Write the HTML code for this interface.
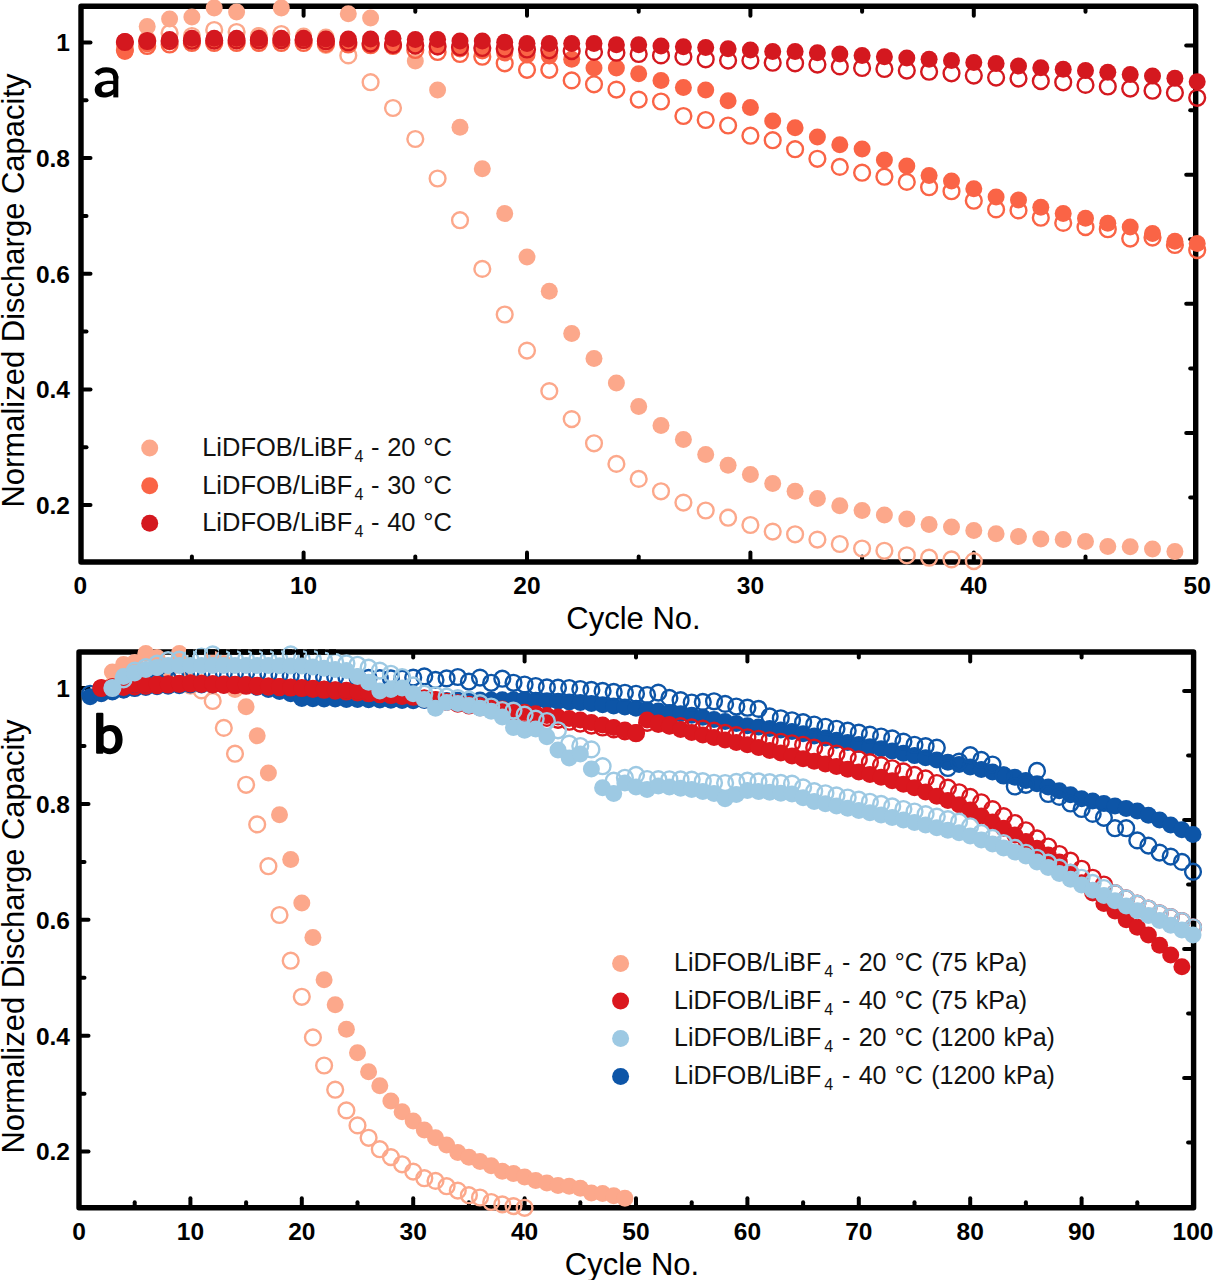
<!DOCTYPE html>
<html><head><meta charset="utf-8"><style>
html,body{margin:0;padding:0;background:#fff;width:1214px;height:1280px;overflow:hidden}
svg{position:absolute;left:0;top:0;font-family:"Liberation Sans",sans-serif}
</style></head><body>
<svg width="1214" height="1280" viewBox="0 0 1214 1280">
<rect x="0" y="0" width="1214" height="1280" fill="#fff"/>
<defs><clipPath id="ca"><rect x="61.0" y="0.0" width="1154.7" height="572.0"/></clipPath>
<clipPath id="cb"><rect x="59.0" y="640.0" width="1154.6" height="577.8"/></clipPath></defs>
<g>
<rect x="81.0" y="6.2" width="1114.7" height="555.8" fill="none" stroke="#000" stroke-width="5.4" stroke-linejoin="round"/>
<line x1="191.9" y1="562.0" x2="191.9" y2="556.5" stroke="#000" stroke-width="4" stroke-linecap="round"/>
<line x1="191.9" y1="6.2" x2="191.9" y2="11.7" stroke="#000" stroke-width="4" stroke-linecap="round"/>
<line x1="303.6" y1="562.0" x2="303.6" y2="552.5" stroke="#000" stroke-width="4" stroke-linecap="round"/>
<line x1="303.6" y1="6.2" x2="303.6" y2="15.7" stroke="#000" stroke-width="4" stroke-linecap="round"/>
<line x1="415.3" y1="562.0" x2="415.3" y2="556.5" stroke="#000" stroke-width="4" stroke-linecap="round"/>
<line x1="415.3" y1="6.2" x2="415.3" y2="11.7" stroke="#000" stroke-width="4" stroke-linecap="round"/>
<line x1="527.0" y1="562.0" x2="527.0" y2="552.5" stroke="#000" stroke-width="4" stroke-linecap="round"/>
<line x1="527.0" y1="6.2" x2="527.0" y2="15.7" stroke="#000" stroke-width="4" stroke-linecap="round"/>
<line x1="638.7" y1="562.0" x2="638.7" y2="556.5" stroke="#000" stroke-width="4" stroke-linecap="round"/>
<line x1="638.7" y1="6.2" x2="638.7" y2="11.7" stroke="#000" stroke-width="4" stroke-linecap="round"/>
<line x1="750.4" y1="562.0" x2="750.4" y2="552.5" stroke="#000" stroke-width="4" stroke-linecap="round"/>
<line x1="750.4" y1="6.2" x2="750.4" y2="15.7" stroke="#000" stroke-width="4" stroke-linecap="round"/>
<line x1="862.1" y1="562.0" x2="862.1" y2="556.5" stroke="#000" stroke-width="4" stroke-linecap="round"/>
<line x1="862.1" y1="6.2" x2="862.1" y2="11.7" stroke="#000" stroke-width="4" stroke-linecap="round"/>
<line x1="973.8" y1="562.0" x2="973.8" y2="552.5" stroke="#000" stroke-width="4" stroke-linecap="round"/>
<line x1="973.8" y1="6.2" x2="973.8" y2="15.7" stroke="#000" stroke-width="4" stroke-linecap="round"/>
<line x1="1085.5" y1="562.0" x2="1085.5" y2="556.5" stroke="#000" stroke-width="4" stroke-linecap="round"/>
<line x1="1085.5" y1="6.2" x2="1085.5" y2="11.7" stroke="#000" stroke-width="4" stroke-linecap="round"/>
<line x1="81.0" y1="505.0" x2="90.5" y2="505.0" stroke="#000" stroke-width="4" stroke-linecap="round"/>
<line x1="81.0" y1="447.2" x2="86.5" y2="447.2" stroke="#000" stroke-width="4" stroke-linecap="round"/>
<line x1="81.0" y1="389.4" x2="90.5" y2="389.4" stroke="#000" stroke-width="4" stroke-linecap="round"/>
<line x1="81.0" y1="331.5" x2="86.5" y2="331.5" stroke="#000" stroke-width="4" stroke-linecap="round"/>
<line x1="81.0" y1="273.7" x2="90.5" y2="273.7" stroke="#000" stroke-width="4" stroke-linecap="round"/>
<line x1="81.0" y1="215.9" x2="86.5" y2="215.9" stroke="#000" stroke-width="4" stroke-linecap="round"/>
<line x1="81.0" y1="158.1" x2="90.5" y2="158.1" stroke="#000" stroke-width="4" stroke-linecap="round"/>
<line x1="81.0" y1="100.2" x2="86.5" y2="100.2" stroke="#000" stroke-width="4" stroke-linecap="round"/>
<line x1="81.0" y1="42.4" x2="90.5" y2="42.4" stroke="#000" stroke-width="4" stroke-linecap="round"/>
<line x1="1195.7" y1="45.6" x2="1186.2" y2="45.6" stroke="#000" stroke-width="4" stroke-linecap="round"/>
<line x1="1195.7" y1="110.2" x2="1190.2" y2="110.2" stroke="#000" stroke-width="4" stroke-linecap="round"/>
<line x1="1195.7" y1="174.7" x2="1186.2" y2="174.7" stroke="#000" stroke-width="4" stroke-linecap="round"/>
<line x1="1195.7" y1="239.2" x2="1190.2" y2="239.2" stroke="#000" stroke-width="4" stroke-linecap="round"/>
<line x1="1195.7" y1="303.8" x2="1186.2" y2="303.8" stroke="#000" stroke-width="4" stroke-linecap="round"/>
<line x1="1195.7" y1="368.4" x2="1190.2" y2="368.4" stroke="#000" stroke-width="4" stroke-linecap="round"/>
<line x1="1195.7" y1="432.9" x2="1186.2" y2="432.9" stroke="#000" stroke-width="4" stroke-linecap="round"/>
<line x1="1195.7" y1="497.4" x2="1190.2" y2="497.4" stroke="#000" stroke-width="4" stroke-linecap="round"/>
</g>
<g clip-path="url(#ca)">
<circle cx="124.9" cy="44.0" r="7.9" fill="none" stroke="#FCA88B" stroke-width="2.4"/>
<circle cx="147.2" cy="40.0" r="7.9" fill="none" stroke="#FCA88B" stroke-width="2.4"/>
<circle cx="169.6" cy="33.0" r="7.9" fill="none" stroke="#FCA88B" stroke-width="2.4"/>
<circle cx="191.9" cy="36.0" r="7.9" fill="none" stroke="#FCA88B" stroke-width="2.4"/>
<circle cx="214.2" cy="30.0" r="7.9" fill="none" stroke="#FCA88B" stroke-width="2.4"/>
<circle cx="236.6" cy="32.0" r="7.9" fill="none" stroke="#FCA88B" stroke-width="2.4"/>
<circle cx="258.9" cy="36.0" r="7.9" fill="none" stroke="#FCA88B" stroke-width="2.4"/>
<circle cx="281.3" cy="34.0" r="7.9" fill="none" stroke="#FCA88B" stroke-width="2.4"/>
<circle cx="303.6" cy="40.0" r="7.9" fill="none" stroke="#FCA88B" stroke-width="2.4"/>
<circle cx="325.9" cy="44.8" r="7.9" fill="none" stroke="#FCA88B" stroke-width="2.4"/>
<circle cx="348.3" cy="55.4" r="7.9" fill="none" stroke="#FCA88B" stroke-width="2.4"/>
<circle cx="370.6" cy="82.2" r="7.9" fill="none" stroke="#FCA88B" stroke-width="2.4"/>
<circle cx="393.0" cy="108.0" r="7.9" fill="none" stroke="#FCA88B" stroke-width="2.4"/>
<circle cx="415.3" cy="139.0" r="7.9" fill="none" stroke="#FCA88B" stroke-width="2.4"/>
<circle cx="437.6" cy="178.5" r="7.9" fill="none" stroke="#FCA88B" stroke-width="2.4"/>
<circle cx="460.0" cy="220.2" r="7.9" fill="none" stroke="#FCA88B" stroke-width="2.4"/>
<circle cx="482.3" cy="268.9" r="7.9" fill="none" stroke="#FCA88B" stroke-width="2.4"/>
<circle cx="504.7" cy="314.5" r="7.9" fill="none" stroke="#FCA88B" stroke-width="2.4"/>
<circle cx="527.0" cy="350.6" r="7.9" fill="none" stroke="#FCA88B" stroke-width="2.4"/>
<circle cx="549.3" cy="391.1" r="7.9" fill="none" stroke="#FCA88B" stroke-width="2.4"/>
<circle cx="571.7" cy="419.1" r="7.9" fill="none" stroke="#FCA88B" stroke-width="2.4"/>
<circle cx="594.0" cy="443.3" r="7.9" fill="none" stroke="#FCA88B" stroke-width="2.4"/>
<circle cx="616.4" cy="463.9" r="7.9" fill="none" stroke="#FCA88B" stroke-width="2.4"/>
<circle cx="638.7" cy="478.9" r="7.9" fill="none" stroke="#FCA88B" stroke-width="2.4"/>
<circle cx="661.0" cy="491.3" r="7.9" fill="none" stroke="#FCA88B" stroke-width="2.4"/>
<circle cx="683.4" cy="502.6" r="7.9" fill="none" stroke="#FCA88B" stroke-width="2.4"/>
<circle cx="705.7" cy="510.5" r="7.9" fill="none" stroke="#FCA88B" stroke-width="2.4"/>
<circle cx="728.1" cy="517.7" r="7.9" fill="none" stroke="#FCA88B" stroke-width="2.4"/>
<circle cx="750.4" cy="525.0" r="7.9" fill="none" stroke="#FCA88B" stroke-width="2.4"/>
<circle cx="772.7" cy="531.6" r="7.9" fill="none" stroke="#FCA88B" stroke-width="2.4"/>
<circle cx="795.1" cy="534.3" r="7.9" fill="none" stroke="#FCA88B" stroke-width="2.4"/>
<circle cx="817.4" cy="539.6" r="7.9" fill="none" stroke="#FCA88B" stroke-width="2.4"/>
<circle cx="839.8" cy="544.0" r="7.9" fill="none" stroke="#FCA88B" stroke-width="2.4"/>
<circle cx="862.1" cy="548.5" r="7.9" fill="none" stroke="#FCA88B" stroke-width="2.4"/>
<circle cx="884.4" cy="550.8" r="7.9" fill="none" stroke="#FCA88B" stroke-width="2.4"/>
<circle cx="906.8" cy="555.3" r="7.9" fill="none" stroke="#FCA88B" stroke-width="2.4"/>
<circle cx="929.1" cy="557.7" r="7.9" fill="none" stroke="#FCA88B" stroke-width="2.4"/>
<circle cx="951.5" cy="559.4" r="7.9" fill="none" stroke="#FCA88B" stroke-width="2.4"/>
<circle cx="973.8" cy="561.1" r="7.9" fill="none" stroke="#FCA88B" stroke-width="2.4"/>
<circle cx="124.9" cy="48.0" r="8.5" fill="#FCA88B"/>
<circle cx="147.2" cy="26.4" r="8.5" fill="#FCA88B"/>
<circle cx="169.6" cy="19.0" r="8.5" fill="#FCA88B"/>
<circle cx="191.9" cy="17.1" r="8.5" fill="#FCA88B"/>
<circle cx="214.2" cy="7.9" r="8.5" fill="#FCA88B"/>
<circle cx="236.6" cy="11.9" r="8.5" fill="#FCA88B"/>
<circle cx="258.9" cy="36.0" r="8.5" fill="#FCA88B"/>
<circle cx="281.3" cy="7.9" r="8.5" fill="#FCA88B"/>
<circle cx="303.6" cy="36.0" r="8.5" fill="#FCA88B"/>
<circle cx="325.9" cy="37.0" r="8.5" fill="#FCA88B"/>
<circle cx="348.3" cy="13.7" r="8.5" fill="#FCA88B"/>
<circle cx="370.6" cy="17.9" r="8.5" fill="#FCA88B"/>
<circle cx="393.0" cy="44.0" r="8.5" fill="#FCA88B"/>
<circle cx="415.3" cy="61.1" r="8.5" fill="#FCA88B"/>
<circle cx="437.6" cy="90.1" r="8.5" fill="#FCA88B"/>
<circle cx="460.0" cy="127.2" r="8.5" fill="#FCA88B"/>
<circle cx="482.3" cy="168.8" r="8.5" fill="#FCA88B"/>
<circle cx="504.7" cy="213.6" r="8.5" fill="#FCA88B"/>
<circle cx="527.0" cy="257.0" r="8.5" fill="#FCA88B"/>
<circle cx="549.3" cy="291.3" r="8.5" fill="#FCA88B"/>
<circle cx="571.7" cy="333.5" r="8.5" fill="#FCA88B"/>
<circle cx="594.0" cy="358.5" r="8.5" fill="#FCA88B"/>
<circle cx="616.4" cy="382.9" r="8.5" fill="#FCA88B"/>
<circle cx="638.7" cy="406.4" r="8.5" fill="#FCA88B"/>
<circle cx="661.0" cy="425.4" r="8.5" fill="#FCA88B"/>
<circle cx="683.4" cy="439.4" r="8.5" fill="#FCA88B"/>
<circle cx="705.7" cy="454.4" r="8.5" fill="#FCA88B"/>
<circle cx="728.1" cy="465.2" r="8.5" fill="#FCA88B"/>
<circle cx="750.4" cy="474.4" r="8.5" fill="#FCA88B"/>
<circle cx="772.7" cy="483.4" r="8.5" fill="#FCA88B"/>
<circle cx="795.1" cy="491.3" r="8.5" fill="#FCA88B"/>
<circle cx="817.4" cy="498.5" r="8.5" fill="#FCA88B"/>
<circle cx="839.8" cy="505.8" r="8.5" fill="#FCA88B"/>
<circle cx="862.1" cy="510.6" r="8.5" fill="#FCA88B"/>
<circle cx="884.4" cy="515.0" r="8.5" fill="#FCA88B"/>
<circle cx="906.8" cy="519.1" r="8.5" fill="#FCA88B"/>
<circle cx="929.1" cy="524.6" r="8.5" fill="#FCA88B"/>
<circle cx="951.5" cy="527.0" r="8.5" fill="#FCA88B"/>
<circle cx="973.8" cy="530.4" r="8.5" fill="#FCA88B"/>
<circle cx="996.1" cy="533.8" r="8.5" fill="#FCA88B"/>
<circle cx="1018.5" cy="536.5" r="8.5" fill="#FCA88B"/>
<circle cx="1040.8" cy="538.9" r="8.5" fill="#FCA88B"/>
<circle cx="1063.2" cy="539.6" r="8.5" fill="#FCA88B"/>
<circle cx="1085.5" cy="541.6" r="8.5" fill="#FCA88B"/>
<circle cx="1107.8" cy="546.4" r="8.5" fill="#FCA88B"/>
<circle cx="1130.2" cy="546.8" r="8.5" fill="#FCA88B"/>
<circle cx="1152.5" cy="549.1" r="8.5" fill="#FCA88B"/>
<circle cx="1174.9" cy="551.5" r="8.5" fill="#FCA88B"/>
<circle cx="124.9" cy="50.0" r="7.9" fill="none" stroke="#FA6446" stroke-width="2.4"/>
<circle cx="147.2" cy="46.0" r="7.9" fill="none" stroke="#FA6446" stroke-width="2.4"/>
<circle cx="169.6" cy="44.5" r="7.9" fill="none" stroke="#FA6446" stroke-width="2.4"/>
<circle cx="191.9" cy="43.0" r="7.9" fill="none" stroke="#FA6446" stroke-width="2.4"/>
<circle cx="214.2" cy="43.0" r="7.9" fill="none" stroke="#FA6446" stroke-width="2.4"/>
<circle cx="236.6" cy="43.0" r="7.9" fill="none" stroke="#FA6446" stroke-width="2.4"/>
<circle cx="258.9" cy="43.0" r="7.9" fill="none" stroke="#FA6446" stroke-width="2.4"/>
<circle cx="281.3" cy="43.0" r="7.9" fill="none" stroke="#FA6446" stroke-width="2.4"/>
<circle cx="303.6" cy="43.0" r="7.9" fill="none" stroke="#FA6446" stroke-width="2.4"/>
<circle cx="325.9" cy="43.8" r="7.9" fill="none" stroke="#FA6446" stroke-width="2.4"/>
<circle cx="348.3" cy="44.5" r="7.9" fill="none" stroke="#FA6446" stroke-width="2.4"/>
<circle cx="370.6" cy="45.2" r="7.9" fill="none" stroke="#FA6446" stroke-width="2.4"/>
<circle cx="393.0" cy="46.0" r="7.9" fill="none" stroke="#FA6446" stroke-width="2.4"/>
<circle cx="415.3" cy="50.0" r="7.9" fill="none" stroke="#FA6446" stroke-width="2.4"/>
<circle cx="437.6" cy="52.0" r="7.9" fill="none" stroke="#FA6446" stroke-width="2.4"/>
<circle cx="460.0" cy="54.0" r="7.9" fill="none" stroke="#FA6446" stroke-width="2.4"/>
<circle cx="482.3" cy="56.7" r="7.9" fill="none" stroke="#FA6446" stroke-width="2.4"/>
<circle cx="504.7" cy="63.3" r="7.9" fill="none" stroke="#FA6446" stroke-width="2.4"/>
<circle cx="527.0" cy="69.8" r="7.9" fill="none" stroke="#FA6446" stroke-width="2.4"/>
<circle cx="549.3" cy="69.8" r="7.9" fill="none" stroke="#FA6446" stroke-width="2.4"/>
<circle cx="571.7" cy="80.4" r="7.9" fill="none" stroke="#FA6446" stroke-width="2.4"/>
<circle cx="594.0" cy="84.3" r="7.9" fill="none" stroke="#FA6446" stroke-width="2.4"/>
<circle cx="616.4" cy="89.6" r="7.9" fill="none" stroke="#FA6446" stroke-width="2.4"/>
<circle cx="638.7" cy="99.6" r="7.9" fill="none" stroke="#FA6446" stroke-width="2.4"/>
<circle cx="661.0" cy="101.5" r="7.9" fill="none" stroke="#FA6446" stroke-width="2.4"/>
<circle cx="683.4" cy="116.0" r="7.9" fill="none" stroke="#FA6446" stroke-width="2.4"/>
<circle cx="705.7" cy="120.0" r="7.9" fill="none" stroke="#FA6446" stroke-width="2.4"/>
<circle cx="728.1" cy="125.5" r="7.9" fill="none" stroke="#FA6446" stroke-width="2.4"/>
<circle cx="750.4" cy="135.7" r="7.9" fill="none" stroke="#FA6446" stroke-width="2.4"/>
<circle cx="772.7" cy="140.2" r="7.9" fill="none" stroke="#FA6446" stroke-width="2.4"/>
<circle cx="795.1" cy="149.2" r="7.9" fill="none" stroke="#FA6446" stroke-width="2.4"/>
<circle cx="817.4" cy="158.8" r="7.9" fill="none" stroke="#FA6446" stroke-width="2.4"/>
<circle cx="839.8" cy="166.9" r="7.9" fill="none" stroke="#FA6446" stroke-width="2.4"/>
<circle cx="862.1" cy="172.7" r="7.9" fill="none" stroke="#FA6446" stroke-width="2.4"/>
<circle cx="884.4" cy="176.7" r="7.9" fill="none" stroke="#FA6446" stroke-width="2.4"/>
<circle cx="906.8" cy="181.9" r="7.9" fill="none" stroke="#FA6446" stroke-width="2.4"/>
<circle cx="929.1" cy="187.2" r="7.9" fill="none" stroke="#FA6446" stroke-width="2.4"/>
<circle cx="951.5" cy="191.2" r="7.9" fill="none" stroke="#FA6446" stroke-width="2.4"/>
<circle cx="973.8" cy="200.7" r="7.9" fill="none" stroke="#FA6446" stroke-width="2.4"/>
<circle cx="996.1" cy="209.4" r="7.9" fill="none" stroke="#FA6446" stroke-width="2.4"/>
<circle cx="1018.5" cy="210.4" r="7.9" fill="none" stroke="#FA6446" stroke-width="2.4"/>
<circle cx="1040.8" cy="217.7" r="7.9" fill="none" stroke="#FA6446" stroke-width="2.4"/>
<circle cx="1063.2" cy="222.9" r="7.9" fill="none" stroke="#FA6446" stroke-width="2.4"/>
<circle cx="1085.5" cy="227.1" r="7.9" fill="none" stroke="#FA6446" stroke-width="2.4"/>
<circle cx="1107.8" cy="229.2" r="7.9" fill="none" stroke="#FA6446" stroke-width="2.4"/>
<circle cx="1130.2" cy="238.6" r="7.9" fill="none" stroke="#FA6446" stroke-width="2.4"/>
<circle cx="1152.5" cy="237.6" r="7.9" fill="none" stroke="#FA6446" stroke-width="2.4"/>
<circle cx="1174.9" cy="245.0" r="7.9" fill="none" stroke="#FA6446" stroke-width="2.4"/>
<circle cx="1197.2" cy="250.1" r="7.9" fill="none" stroke="#FA6446" stroke-width="2.4"/>
<circle cx="124.9" cy="51.4" r="8.5" fill="#FA6446"/>
<circle cx="147.2" cy="44.0" r="8.5" fill="#FA6446"/>
<circle cx="169.6" cy="42.0" r="8.5" fill="#FA6446"/>
<circle cx="191.9" cy="41.0" r="8.5" fill="#FA6446"/>
<circle cx="214.2" cy="41.0" r="8.5" fill="#FA6446"/>
<circle cx="236.6" cy="41.0" r="8.5" fill="#FA6446"/>
<circle cx="258.9" cy="41.0" r="8.5" fill="#FA6446"/>
<circle cx="281.3" cy="41.0" r="8.5" fill="#FA6446"/>
<circle cx="303.6" cy="41.0" r="8.5" fill="#FA6446"/>
<circle cx="325.9" cy="42.0" r="8.5" fill="#FA6446"/>
<circle cx="348.3" cy="42.0" r="8.5" fill="#FA6446"/>
<circle cx="370.6" cy="43.0" r="8.5" fill="#FA6446"/>
<circle cx="393.0" cy="44.0" r="8.5" fill="#FA6446"/>
<circle cx="415.3" cy="45.0" r="8.5" fill="#FA6446"/>
<circle cx="437.6" cy="47.0" r="8.5" fill="#FA6446"/>
<circle cx="460.0" cy="49.0" r="8.5" fill="#FA6446"/>
<circle cx="482.3" cy="51.0" r="8.5" fill="#FA6446"/>
<circle cx="504.7" cy="53.0" r="8.5" fill="#FA6446"/>
<circle cx="527.0" cy="55.0" r="8.5" fill="#FA6446"/>
<circle cx="549.3" cy="56.0" r="8.5" fill="#FA6446"/>
<circle cx="571.7" cy="59.3" r="8.5" fill="#FA6446"/>
<circle cx="594.0" cy="68.0" r="8.5" fill="#FA6446"/>
<circle cx="616.4" cy="68.0" r="8.5" fill="#FA6446"/>
<circle cx="638.7" cy="73.8" r="8.5" fill="#FA6446"/>
<circle cx="661.0" cy="80.4" r="8.5" fill="#FA6446"/>
<circle cx="683.4" cy="87.6" r="8.5" fill="#FA6446"/>
<circle cx="705.7" cy="90.1" r="8.5" fill="#FA6446"/>
<circle cx="728.1" cy="100.7" r="8.5" fill="#FA6446"/>
<circle cx="750.4" cy="107.5" r="8.5" fill="#FA6446"/>
<circle cx="772.7" cy="121.0" r="8.5" fill="#FA6446"/>
<circle cx="795.1" cy="127.8" r="8.5" fill="#FA6446"/>
<circle cx="817.4" cy="137.0" r="8.5" fill="#FA6446"/>
<circle cx="839.8" cy="144.7" r="8.5" fill="#FA6446"/>
<circle cx="862.1" cy="149.0" r="8.5" fill="#FA6446"/>
<circle cx="884.4" cy="160.0" r="8.5" fill="#FA6446"/>
<circle cx="906.8" cy="166.0" r="8.5" fill="#FA6446"/>
<circle cx="929.1" cy="175.4" r="8.5" fill="#FA6446"/>
<circle cx="951.5" cy="181.1" r="8.5" fill="#FA6446"/>
<circle cx="973.8" cy="188.7" r="8.5" fill="#FA6446"/>
<circle cx="996.1" cy="197.0" r="8.5" fill="#FA6446"/>
<circle cx="1018.5" cy="199.9" r="8.5" fill="#FA6446"/>
<circle cx="1040.8" cy="207.2" r="8.5" fill="#FA6446"/>
<circle cx="1063.2" cy="213.5" r="8.5" fill="#FA6446"/>
<circle cx="1085.5" cy="218.3" r="8.5" fill="#FA6446"/>
<circle cx="1107.8" cy="223.3" r="8.5" fill="#FA6446"/>
<circle cx="1130.2" cy="227.1" r="8.5" fill="#FA6446"/>
<circle cx="1152.5" cy="233.4" r="8.5" fill="#FA6446"/>
<circle cx="1174.9" cy="241.3" r="8.5" fill="#FA6446"/>
<circle cx="1197.2" cy="243.4" r="8.5" fill="#FA6446"/>
<circle cx="124.9" cy="42.0" r="7.9" fill="none" stroke="#D4181F" stroke-width="2.4"/>
<circle cx="147.2" cy="41.0" r="7.9" fill="none" stroke="#D4181F" stroke-width="2.4"/>
<circle cx="169.6" cy="40.9" r="7.9" fill="none" stroke="#D4181F" stroke-width="2.4"/>
<circle cx="191.9" cy="40.7" r="7.9" fill="none" stroke="#D4181F" stroke-width="2.4"/>
<circle cx="214.2" cy="40.6" r="7.9" fill="none" stroke="#D4181F" stroke-width="2.4"/>
<circle cx="236.6" cy="40.4" r="7.9" fill="none" stroke="#D4181F" stroke-width="2.4"/>
<circle cx="258.9" cy="40.3" r="7.9" fill="none" stroke="#D4181F" stroke-width="2.4"/>
<circle cx="281.3" cy="40.1" r="7.9" fill="none" stroke="#D4181F" stroke-width="2.4"/>
<circle cx="303.6" cy="40.0" r="7.9" fill="none" stroke="#D4181F" stroke-width="2.4"/>
<circle cx="325.9" cy="41.2" r="7.9" fill="none" stroke="#D4181F" stroke-width="2.4"/>
<circle cx="348.3" cy="42.4" r="7.9" fill="none" stroke="#D4181F" stroke-width="2.4"/>
<circle cx="370.6" cy="43.6" r="7.9" fill="none" stroke="#D4181F" stroke-width="2.4"/>
<circle cx="393.0" cy="44.8" r="7.9" fill="none" stroke="#D4181F" stroke-width="2.4"/>
<circle cx="415.3" cy="45.6" r="7.9" fill="none" stroke="#D4181F" stroke-width="2.4"/>
<circle cx="437.6" cy="46.4" r="7.9" fill="none" stroke="#D4181F" stroke-width="2.4"/>
<circle cx="460.0" cy="47.2" r="7.9" fill="none" stroke="#D4181F" stroke-width="2.4"/>
<circle cx="482.3" cy="48.0" r="7.9" fill="none" stroke="#D4181F" stroke-width="2.4"/>
<circle cx="504.7" cy="48.8" r="7.9" fill="none" stroke="#D4181F" stroke-width="2.4"/>
<circle cx="527.0" cy="49.5" r="7.9" fill="none" stroke="#D4181F" stroke-width="2.4"/>
<circle cx="549.3" cy="50.3" r="7.9" fill="none" stroke="#D4181F" stroke-width="2.4"/>
<circle cx="571.7" cy="51.1" r="7.9" fill="none" stroke="#D4181F" stroke-width="2.4"/>
<circle cx="594.0" cy="51.9" r="7.9" fill="none" stroke="#D4181F" stroke-width="2.4"/>
<circle cx="616.4" cy="52.7" r="7.9" fill="none" stroke="#D4181F" stroke-width="2.4"/>
<circle cx="638.7" cy="54.0" r="7.9" fill="none" stroke="#D4181F" stroke-width="2.4"/>
<circle cx="661.0" cy="55.4" r="7.9" fill="none" stroke="#D4181F" stroke-width="2.4"/>
<circle cx="683.4" cy="56.7" r="7.9" fill="none" stroke="#D4181F" stroke-width="2.4"/>
<circle cx="705.7" cy="59.3" r="7.9" fill="none" stroke="#D4181F" stroke-width="2.4"/>
<circle cx="728.1" cy="60.6" r="7.9" fill="none" stroke="#D4181F" stroke-width="2.4"/>
<circle cx="750.4" cy="60.6" r="7.9" fill="none" stroke="#D4181F" stroke-width="2.4"/>
<circle cx="772.7" cy="62.7" r="7.9" fill="none" stroke="#D4181F" stroke-width="2.4"/>
<circle cx="795.1" cy="63.3" r="7.9" fill="none" stroke="#D4181F" stroke-width="2.4"/>
<circle cx="817.4" cy="64.6" r="7.9" fill="none" stroke="#D4181F" stroke-width="2.4"/>
<circle cx="839.8" cy="66.4" r="7.9" fill="none" stroke="#D4181F" stroke-width="2.4"/>
<circle cx="862.1" cy="68.0" r="7.9" fill="none" stroke="#D4181F" stroke-width="2.4"/>
<circle cx="884.4" cy="69.0" r="7.9" fill="none" stroke="#D4181F" stroke-width="2.4"/>
<circle cx="906.8" cy="70.6" r="7.9" fill="none" stroke="#D4181F" stroke-width="2.4"/>
<circle cx="929.1" cy="71.7" r="7.9" fill="none" stroke="#D4181F" stroke-width="2.4"/>
<circle cx="951.5" cy="73.3" r="7.9" fill="none" stroke="#D4181F" stroke-width="2.4"/>
<circle cx="973.8" cy="75.6" r="7.9" fill="none" stroke="#D4181F" stroke-width="2.4"/>
<circle cx="996.1" cy="77.6" r="7.9" fill="none" stroke="#D4181F" stroke-width="2.4"/>
<circle cx="1018.5" cy="78.6" r="7.9" fill="none" stroke="#D4181F" stroke-width="2.4"/>
<circle cx="1040.8" cy="81.1" r="7.9" fill="none" stroke="#D4181F" stroke-width="2.4"/>
<circle cx="1063.2" cy="82.3" r="7.9" fill="none" stroke="#D4181F" stroke-width="2.4"/>
<circle cx="1085.5" cy="84.9" r="7.9" fill="none" stroke="#D4181F" stroke-width="2.4"/>
<circle cx="1107.8" cy="86.5" r="7.9" fill="none" stroke="#D4181F" stroke-width="2.4"/>
<circle cx="1130.2" cy="88.6" r="7.9" fill="none" stroke="#D4181F" stroke-width="2.4"/>
<circle cx="1152.5" cy="90.7" r="7.9" fill="none" stroke="#D4181F" stroke-width="2.4"/>
<circle cx="1174.9" cy="92.8" r="7.9" fill="none" stroke="#D4181F" stroke-width="2.4"/>
<circle cx="1197.2" cy="97.8" r="7.9" fill="none" stroke="#D4181F" stroke-width="2.4"/>
<circle cx="124.9" cy="41.6" r="8.5" fill="#D4181F"/>
<circle cx="147.2" cy="40.9" r="8.5" fill="#D4181F"/>
<circle cx="169.6" cy="39.5" r="8.5" fill="#D4181F"/>
<circle cx="191.9" cy="38.2" r="8.5" fill="#D4181F"/>
<circle cx="214.2" cy="38.2" r="8.5" fill="#D4181F"/>
<circle cx="236.6" cy="38.2" r="8.5" fill="#D4181F"/>
<circle cx="258.9" cy="38.2" r="8.5" fill="#D4181F"/>
<circle cx="281.3" cy="38.2" r="8.5" fill="#D4181F"/>
<circle cx="303.6" cy="38.2" r="8.5" fill="#D4181F"/>
<circle cx="325.9" cy="39.0" r="8.5" fill="#D4181F"/>
<circle cx="348.3" cy="39.0" r="8.5" fill="#D4181F"/>
<circle cx="370.6" cy="39.0" r="8.5" fill="#D4181F"/>
<circle cx="393.0" cy="38.5" r="8.5" fill="#D4181F"/>
<circle cx="415.3" cy="39.5" r="8.5" fill="#D4181F"/>
<circle cx="437.6" cy="39.5" r="8.5" fill="#D4181F"/>
<circle cx="460.0" cy="40.9" r="8.5" fill="#D4181F"/>
<circle cx="482.3" cy="40.9" r="8.5" fill="#D4181F"/>
<circle cx="504.7" cy="42.2" r="8.5" fill="#D4181F"/>
<circle cx="527.0" cy="43.5" r="8.5" fill="#D4181F"/>
<circle cx="549.3" cy="43.5" r="8.5" fill="#D4181F"/>
<circle cx="571.7" cy="43.5" r="8.5" fill="#D4181F"/>
<circle cx="594.0" cy="43.5" r="8.5" fill="#D4181F"/>
<circle cx="616.4" cy="44.8" r="8.5" fill="#D4181F"/>
<circle cx="638.7" cy="44.8" r="8.5" fill="#D4181F"/>
<circle cx="661.0" cy="46.1" r="8.5" fill="#D4181F"/>
<circle cx="683.4" cy="46.8" r="8.5" fill="#D4181F"/>
<circle cx="705.7" cy="47.4" r="8.5" fill="#D4181F"/>
<circle cx="728.1" cy="48.8" r="8.5" fill="#D4181F"/>
<circle cx="750.4" cy="50.1" r="8.5" fill="#D4181F"/>
<circle cx="772.7" cy="51.4" r="8.5" fill="#D4181F"/>
<circle cx="795.1" cy="51.4" r="8.5" fill="#D4181F"/>
<circle cx="817.4" cy="52.7" r="8.5" fill="#D4181F"/>
<circle cx="839.8" cy="54.0" r="8.5" fill="#D4181F"/>
<circle cx="862.1" cy="55.4" r="8.5" fill="#D4181F"/>
<circle cx="884.4" cy="56.7" r="8.5" fill="#D4181F"/>
<circle cx="906.8" cy="58.0" r="8.5" fill="#D4181F"/>
<circle cx="929.1" cy="59.3" r="8.5" fill="#D4181F"/>
<circle cx="951.5" cy="60.6" r="8.5" fill="#D4181F"/>
<circle cx="973.8" cy="62.4" r="8.5" fill="#D4181F"/>
<circle cx="996.1" cy="63.6" r="8.5" fill="#D4181F"/>
<circle cx="1018.5" cy="66.0" r="8.5" fill="#D4181F"/>
<circle cx="1040.8" cy="67.7" r="8.5" fill="#D4181F"/>
<circle cx="1063.2" cy="69.2" r="8.5" fill="#D4181F"/>
<circle cx="1085.5" cy="70.6" r="8.5" fill="#D4181F"/>
<circle cx="1107.8" cy="72.3" r="8.5" fill="#D4181F"/>
<circle cx="1130.2" cy="74.4" r="8.5" fill="#D4181F"/>
<circle cx="1152.5" cy="76.1" r="8.5" fill="#D4181F"/>
<circle cx="1174.9" cy="78.2" r="8.5" fill="#D4181F"/>
<circle cx="1197.2" cy="81.7" r="8.5" fill="#D4181F"/>
</g>
<g>
<rect x="79.0" y="652.0" width="1114.6" height="555.8" fill="none" stroke="#000" stroke-width="5.4" stroke-linejoin="round"/>
<line x1="134.7" y1="1207.8" x2="134.7" y2="1202.3" stroke="#000" stroke-width="4" stroke-linecap="round"/>
<line x1="190.4" y1="1207.8" x2="190.4" y2="1198.3" stroke="#000" stroke-width="4" stroke-linecap="round"/>
<line x1="190.4" y1="652.0" x2="190.4" y2="657.5" stroke="#000" stroke-width="4" stroke-linecap="round"/>
<line x1="246.1" y1="1207.8" x2="246.1" y2="1202.3" stroke="#000" stroke-width="4" stroke-linecap="round"/>
<line x1="301.8" y1="1207.8" x2="301.8" y2="1198.3" stroke="#000" stroke-width="4" stroke-linecap="round"/>
<line x1="301.8" y1="652.0" x2="301.8" y2="661.5" stroke="#000" stroke-width="4" stroke-linecap="round"/>
<line x1="357.5" y1="1207.8" x2="357.5" y2="1202.3" stroke="#000" stroke-width="4" stroke-linecap="round"/>
<line x1="413.2" y1="1207.8" x2="413.2" y2="1198.3" stroke="#000" stroke-width="4" stroke-linecap="round"/>
<line x1="413.2" y1="652.0" x2="413.2" y2="657.5" stroke="#000" stroke-width="4" stroke-linecap="round"/>
<line x1="468.9" y1="1207.8" x2="468.9" y2="1202.3" stroke="#000" stroke-width="4" stroke-linecap="round"/>
<line x1="524.6" y1="1207.8" x2="524.6" y2="1198.3" stroke="#000" stroke-width="4" stroke-linecap="round"/>
<line x1="524.6" y1="652.0" x2="524.6" y2="661.5" stroke="#000" stroke-width="4" stroke-linecap="round"/>
<line x1="580.3" y1="1207.8" x2="580.3" y2="1202.3" stroke="#000" stroke-width="4" stroke-linecap="round"/>
<line x1="636.0" y1="1207.8" x2="636.0" y2="1198.3" stroke="#000" stroke-width="4" stroke-linecap="round"/>
<line x1="636.0" y1="652.0" x2="636.0" y2="657.5" stroke="#000" stroke-width="4" stroke-linecap="round"/>
<line x1="691.7" y1="1207.8" x2="691.7" y2="1202.3" stroke="#000" stroke-width="4" stroke-linecap="round"/>
<line x1="747.4" y1="1207.8" x2="747.4" y2="1198.3" stroke="#000" stroke-width="4" stroke-linecap="round"/>
<line x1="747.4" y1="652.0" x2="747.4" y2="661.5" stroke="#000" stroke-width="4" stroke-linecap="round"/>
<line x1="803.1" y1="1207.8" x2="803.1" y2="1202.3" stroke="#000" stroke-width="4" stroke-linecap="round"/>
<line x1="858.8" y1="1207.8" x2="858.8" y2="1198.3" stroke="#000" stroke-width="4" stroke-linecap="round"/>
<line x1="858.8" y1="652.0" x2="858.8" y2="657.5" stroke="#000" stroke-width="4" stroke-linecap="round"/>
<line x1="914.5" y1="1207.8" x2="914.5" y2="1202.3" stroke="#000" stroke-width="4" stroke-linecap="round"/>
<line x1="970.2" y1="1207.8" x2="970.2" y2="1198.3" stroke="#000" stroke-width="4" stroke-linecap="round"/>
<line x1="970.2" y1="652.0" x2="970.2" y2="661.5" stroke="#000" stroke-width="4" stroke-linecap="round"/>
<line x1="1025.9" y1="1207.8" x2="1025.9" y2="1202.3" stroke="#000" stroke-width="4" stroke-linecap="round"/>
<line x1="1081.6" y1="1207.8" x2="1081.6" y2="1198.3" stroke="#000" stroke-width="4" stroke-linecap="round"/>
<line x1="1081.6" y1="652.0" x2="1081.6" y2="657.5" stroke="#000" stroke-width="4" stroke-linecap="round"/>
<line x1="1137.3" y1="1207.8" x2="1137.3" y2="1202.3" stroke="#000" stroke-width="4" stroke-linecap="round"/>
<line x1="79.0" y1="1151.6" x2="88.5" y2="1151.6" stroke="#000" stroke-width="4" stroke-linecap="round"/>
<line x1="79.0" y1="1093.7" x2="84.5" y2="1093.7" stroke="#000" stroke-width="4" stroke-linecap="round"/>
<line x1="79.0" y1="1035.7" x2="88.5" y2="1035.7" stroke="#000" stroke-width="4" stroke-linecap="round"/>
<line x1="79.0" y1="977.8" x2="84.5" y2="977.8" stroke="#000" stroke-width="4" stroke-linecap="round"/>
<line x1="79.0" y1="919.8" x2="88.5" y2="919.8" stroke="#000" stroke-width="4" stroke-linecap="round"/>
<line x1="79.0" y1="861.9" x2="84.5" y2="861.9" stroke="#000" stroke-width="4" stroke-linecap="round"/>
<line x1="79.0" y1="803.9" x2="88.5" y2="803.9" stroke="#000" stroke-width="4" stroke-linecap="round"/>
<line x1="79.0" y1="746.0" x2="84.5" y2="746.0" stroke="#000" stroke-width="4" stroke-linecap="round"/>
<line x1="79.0" y1="688.0" x2="88.5" y2="688.0" stroke="#000" stroke-width="4" stroke-linecap="round"/>
<line x1="1193.6" y1="691.0" x2="1184.1" y2="691.0" stroke="#000" stroke-width="4" stroke-linecap="round"/>
<line x1="1193.6" y1="755.5" x2="1188.1" y2="755.5" stroke="#000" stroke-width="4" stroke-linecap="round"/>
<line x1="1193.6" y1="820.0" x2="1184.1" y2="820.0" stroke="#000" stroke-width="4" stroke-linecap="round"/>
<line x1="1193.6" y1="884.5" x2="1188.1" y2="884.5" stroke="#000" stroke-width="4" stroke-linecap="round"/>
<line x1="1193.6" y1="949.0" x2="1184.1" y2="949.0" stroke="#000" stroke-width="4" stroke-linecap="round"/>
<line x1="1193.6" y1="1013.5" x2="1188.1" y2="1013.5" stroke="#000" stroke-width="4" stroke-linecap="round"/>
<line x1="1193.6" y1="1078.0" x2="1184.1" y2="1078.0" stroke="#000" stroke-width="4" stroke-linecap="round"/>
<line x1="1193.6" y1="1142.5" x2="1188.1" y2="1142.5" stroke="#000" stroke-width="4" stroke-linecap="round"/>
</g>
<g clip-path="url(#cb)">
<circle cx="101.3" cy="689.6" r="7.9" fill="none" stroke="#FCA88B" stroke-width="2.4"/>
<circle cx="112.4" cy="685.6" r="7.9" fill="none" stroke="#FCA88B" stroke-width="2.4"/>
<circle cx="123.6" cy="678.6" r="7.9" fill="none" stroke="#FCA88B" stroke-width="2.4"/>
<circle cx="134.7" cy="681.6" r="7.9" fill="none" stroke="#FCA88B" stroke-width="2.4"/>
<circle cx="145.8" cy="675.6" r="7.9" fill="none" stroke="#FCA88B" stroke-width="2.4"/>
<circle cx="157.0" cy="677.6" r="7.9" fill="none" stroke="#FCA88B" stroke-width="2.4"/>
<circle cx="168.1" cy="681.6" r="7.9" fill="none" stroke="#FCA88B" stroke-width="2.4"/>
<circle cx="179.3" cy="679.6" r="7.9" fill="none" stroke="#FCA88B" stroke-width="2.4"/>
<circle cx="190.4" cy="685.6" r="7.9" fill="none" stroke="#FCA88B" stroke-width="2.4"/>
<circle cx="201.5" cy="690.4" r="7.9" fill="none" stroke="#FCA88B" stroke-width="2.4"/>
<circle cx="212.7" cy="701.0" r="7.9" fill="none" stroke="#FCA88B" stroke-width="2.4"/>
<circle cx="223.8" cy="727.9" r="7.9" fill="none" stroke="#FCA88B" stroke-width="2.4"/>
<circle cx="235.0" cy="753.7" r="7.9" fill="none" stroke="#FCA88B" stroke-width="2.4"/>
<circle cx="246.1" cy="784.8" r="7.9" fill="none" stroke="#FCA88B" stroke-width="2.4"/>
<circle cx="257.2" cy="824.4" r="7.9" fill="none" stroke="#FCA88B" stroke-width="2.4"/>
<circle cx="268.4" cy="866.2" r="7.9" fill="none" stroke="#FCA88B" stroke-width="2.4"/>
<circle cx="279.5" cy="915.0" r="7.9" fill="none" stroke="#FCA88B" stroke-width="2.4"/>
<circle cx="290.7" cy="960.7" r="7.9" fill="none" stroke="#FCA88B" stroke-width="2.4"/>
<circle cx="301.8" cy="996.8" r="7.9" fill="none" stroke="#FCA88B" stroke-width="2.4"/>
<circle cx="312.9" cy="1037.4" r="7.9" fill="none" stroke="#FCA88B" stroke-width="2.4"/>
<circle cx="324.1" cy="1065.5" r="7.9" fill="none" stroke="#FCA88B" stroke-width="2.4"/>
<circle cx="335.2" cy="1089.7" r="7.9" fill="none" stroke="#FCA88B" stroke-width="2.4"/>
<circle cx="346.4" cy="1110.4" r="7.9" fill="none" stroke="#FCA88B" stroke-width="2.4"/>
<circle cx="357.5" cy="1125.4" r="7.9" fill="none" stroke="#FCA88B" stroke-width="2.4"/>
<circle cx="368.6" cy="1137.8" r="7.9" fill="none" stroke="#FCA88B" stroke-width="2.4"/>
<circle cx="379.8" cy="1149.2" r="7.9" fill="none" stroke="#FCA88B" stroke-width="2.4"/>
<circle cx="390.9" cy="1157.1" r="7.9" fill="none" stroke="#FCA88B" stroke-width="2.4"/>
<circle cx="402.1" cy="1164.3" r="7.9" fill="none" stroke="#FCA88B" stroke-width="2.4"/>
<circle cx="413.2" cy="1171.6" r="7.9" fill="none" stroke="#FCA88B" stroke-width="2.4"/>
<circle cx="424.3" cy="1178.2" r="7.9" fill="none" stroke="#FCA88B" stroke-width="2.4"/>
<circle cx="435.5" cy="1180.9" r="7.9" fill="none" stroke="#FCA88B" stroke-width="2.4"/>
<circle cx="446.6" cy="1186.2" r="7.9" fill="none" stroke="#FCA88B" stroke-width="2.4"/>
<circle cx="457.8" cy="1190.6" r="7.9" fill="none" stroke="#FCA88B" stroke-width="2.4"/>
<circle cx="468.9" cy="1195.2" r="7.9" fill="none" stroke="#FCA88B" stroke-width="2.4"/>
<circle cx="480.0" cy="1197.5" r="7.9" fill="none" stroke="#FCA88B" stroke-width="2.4"/>
<circle cx="491.2" cy="1202.0" r="7.9" fill="none" stroke="#FCA88B" stroke-width="2.4"/>
<circle cx="502.3" cy="1204.4" r="7.9" fill="none" stroke="#FCA88B" stroke-width="2.4"/>
<circle cx="513.5" cy="1206.1" r="7.9" fill="none" stroke="#FCA88B" stroke-width="2.4"/>
<circle cx="524.6" cy="1207.8" r="7.9" fill="none" stroke="#FCA88B" stroke-width="2.4"/>
<circle cx="101.3" cy="693.6" r="8.5" fill="#FCA88B"/>
<circle cx="112.4" cy="672.0" r="8.5" fill="#FCA88B"/>
<circle cx="123.6" cy="664.6" r="8.5" fill="#FCA88B"/>
<circle cx="134.7" cy="662.6" r="8.5" fill="#FCA88B"/>
<circle cx="145.8" cy="653.4" r="8.5" fill="#FCA88B"/>
<circle cx="157.0" cy="657.4" r="8.5" fill="#FCA88B"/>
<circle cx="168.1" cy="681.6" r="8.5" fill="#FCA88B"/>
<circle cx="179.3" cy="653.4" r="8.5" fill="#FCA88B"/>
<circle cx="190.4" cy="681.6" r="8.5" fill="#FCA88B"/>
<circle cx="201.5" cy="682.6" r="8.5" fill="#FCA88B"/>
<circle cx="212.7" cy="659.2" r="8.5" fill="#FCA88B"/>
<circle cx="223.8" cy="663.4" r="8.5" fill="#FCA88B"/>
<circle cx="235.0" cy="689.6" r="8.5" fill="#FCA88B"/>
<circle cx="246.1" cy="706.7" r="8.5" fill="#FCA88B"/>
<circle cx="257.2" cy="735.8" r="8.5" fill="#FCA88B"/>
<circle cx="268.4" cy="773.0" r="8.5" fill="#FCA88B"/>
<circle cx="279.5" cy="814.7" r="8.5" fill="#FCA88B"/>
<circle cx="290.7" cy="859.6" r="8.5" fill="#FCA88B"/>
<circle cx="301.8" cy="903.0" r="8.5" fill="#FCA88B"/>
<circle cx="312.9" cy="937.4" r="8.5" fill="#FCA88B"/>
<circle cx="324.1" cy="979.7" r="8.5" fill="#FCA88B"/>
<circle cx="335.2" cy="1004.8" r="8.5" fill="#FCA88B"/>
<circle cx="346.4" cy="1029.2" r="8.5" fill="#FCA88B"/>
<circle cx="357.5" cy="1052.8" r="8.5" fill="#FCA88B"/>
<circle cx="368.6" cy="1071.8" r="8.5" fill="#FCA88B"/>
<circle cx="379.8" cy="1085.8" r="8.5" fill="#FCA88B"/>
<circle cx="390.9" cy="1100.9" r="8.5" fill="#FCA88B"/>
<circle cx="402.1" cy="1111.7" r="8.5" fill="#FCA88B"/>
<circle cx="413.2" cy="1120.9" r="8.5" fill="#FCA88B"/>
<circle cx="424.3" cy="1129.9" r="8.5" fill="#FCA88B"/>
<circle cx="435.5" cy="1137.8" r="8.5" fill="#FCA88B"/>
<circle cx="446.6" cy="1145.0" r="8.5" fill="#FCA88B"/>
<circle cx="457.8" cy="1152.4" r="8.5" fill="#FCA88B"/>
<circle cx="468.9" cy="1157.2" r="8.5" fill="#FCA88B"/>
<circle cx="480.0" cy="1161.6" r="8.5" fill="#FCA88B"/>
<circle cx="491.2" cy="1165.7" r="8.5" fill="#FCA88B"/>
<circle cx="502.3" cy="1171.2" r="8.5" fill="#FCA88B"/>
<circle cx="513.5" cy="1173.6" r="8.5" fill="#FCA88B"/>
<circle cx="524.6" cy="1177.0" r="8.5" fill="#FCA88B"/>
<circle cx="535.7" cy="1180.4" r="8.5" fill="#FCA88B"/>
<circle cx="546.9" cy="1183.1" r="8.5" fill="#FCA88B"/>
<circle cx="558.0" cy="1185.5" r="8.5" fill="#FCA88B"/>
<circle cx="569.2" cy="1186.2" r="8.5" fill="#FCA88B"/>
<circle cx="580.3" cy="1188.2" r="8.5" fill="#FCA88B"/>
<circle cx="591.4" cy="1193.0" r="8.5" fill="#FCA88B"/>
<circle cx="602.6" cy="1193.4" r="8.5" fill="#FCA88B"/>
<circle cx="613.7" cy="1195.8" r="8.5" fill="#FCA88B"/>
<circle cx="624.9" cy="1198.2" r="8.5" fill="#FCA88B"/>
<circle cx="90.1" cy="696.7" r="8.5" fill="#0D55A7"/>
<circle cx="101.3" cy="693.8" r="8.5" fill="#0D55A7"/>
<circle cx="112.4" cy="691.9" r="8.5" fill="#0D55A7"/>
<circle cx="123.6" cy="689.9" r="8.5" fill="#0D55A7"/>
<circle cx="134.7" cy="688.0" r="8.5" fill="#0D55A7"/>
<circle cx="145.8" cy="687.4" r="8.5" fill="#0D55A7"/>
<circle cx="157.0" cy="686.8" r="8.5" fill="#0D55A7"/>
<circle cx="168.1" cy="686.3" r="8.5" fill="#0D55A7"/>
<circle cx="179.3" cy="685.7" r="8.5" fill="#0D55A7"/>
<circle cx="190.4" cy="685.1" r="8.5" fill="#0D55A7"/>
<circle cx="201.5" cy="685.1" r="8.5" fill="#0D55A7"/>
<circle cx="212.7" cy="685.1" r="8.5" fill="#0D55A7"/>
<circle cx="223.8" cy="685.1" r="8.5" fill="#0D55A7"/>
<circle cx="235.0" cy="685.1" r="8.5" fill="#0D55A7"/>
<circle cx="246.1" cy="685.1" r="8.5" fill="#0D55A7"/>
<circle cx="257.2" cy="687.3" r="8.5" fill="#0D55A7"/>
<circle cx="268.4" cy="689.4" r="8.5" fill="#0D55A7"/>
<circle cx="279.5" cy="691.6" r="8.5" fill="#0D55A7"/>
<circle cx="290.7" cy="693.8" r="8.5" fill="#0D55A7"/>
<circle cx="301.8" cy="698.4" r="8.5" fill="#0D55A7"/>
<circle cx="312.9" cy="698.7" r="8.5" fill="#0D55A7"/>
<circle cx="324.1" cy="698.9" r="8.5" fill="#0D55A7"/>
<circle cx="335.2" cy="699.1" r="8.5" fill="#0D55A7"/>
<circle cx="346.4" cy="699.4" r="8.5" fill="#0D55A7"/>
<circle cx="357.5" cy="699.6" r="8.5" fill="#0D55A7"/>
<circle cx="368.6" cy="699.8" r="8.5" fill="#0D55A7"/>
<circle cx="379.8" cy="700.1" r="8.5" fill="#0D55A7"/>
<circle cx="390.9" cy="700.3" r="8.5" fill="#0D55A7"/>
<circle cx="402.1" cy="700.5" r="8.5" fill="#0D55A7"/>
<circle cx="413.2" cy="700.7" r="8.5" fill="#0D55A7"/>
<circle cx="424.3" cy="700.6" r="8.5" fill="#0D55A7"/>
<circle cx="435.5" cy="700.5" r="8.5" fill="#0D55A7"/>
<circle cx="446.6" cy="700.4" r="8.5" fill="#0D55A7"/>
<circle cx="457.8" cy="700.3" r="8.5" fill="#0D55A7"/>
<circle cx="468.9" cy="700.2" r="8.5" fill="#0D55A7"/>
<circle cx="480.0" cy="700.1" r="8.5" fill="#0D55A7"/>
<circle cx="491.2" cy="699.9" r="8.5" fill="#0D55A7"/>
<circle cx="502.3" cy="699.8" r="8.5" fill="#0D55A7"/>
<circle cx="513.5" cy="699.7" r="8.5" fill="#0D55A7"/>
<circle cx="524.6" cy="699.6" r="8.5" fill="#0D55A7"/>
<circle cx="535.7" cy="700.2" r="8.5" fill="#0D55A7"/>
<circle cx="546.9" cy="700.7" r="8.5" fill="#0D55A7"/>
<circle cx="558.0" cy="701.3" r="8.5" fill="#0D55A7"/>
<circle cx="569.2" cy="701.9" r="8.5" fill="#0D55A7"/>
<circle cx="580.3" cy="702.5" r="8.5" fill="#0D55A7"/>
<circle cx="591.4" cy="703.6" r="8.5" fill="#0D55A7"/>
<circle cx="602.6" cy="704.8" r="8.5" fill="#0D55A7"/>
<circle cx="613.7" cy="706.0" r="8.5" fill="#0D55A7"/>
<circle cx="624.9" cy="707.1" r="8.5" fill="#0D55A7"/>
<circle cx="636.0" cy="708.3" r="8.5" fill="#0D55A7"/>
<circle cx="647.1" cy="709.7" r="8.5" fill="#0D55A7"/>
<circle cx="658.3" cy="711.1" r="8.5" fill="#0D55A7"/>
<circle cx="669.4" cy="712.5" r="8.5" fill="#0D55A7"/>
<circle cx="680.6" cy="713.8" r="8.5" fill="#0D55A7"/>
<circle cx="691.7" cy="715.2" r="8.5" fill="#0D55A7"/>
<circle cx="702.8" cy="717.3" r="8.5" fill="#0D55A7"/>
<circle cx="714.0" cy="719.4" r="8.5" fill="#0D55A7"/>
<circle cx="725.1" cy="721.5" r="8.5" fill="#0D55A7"/>
<circle cx="736.3" cy="723.6" r="8.5" fill="#0D55A7"/>
<circle cx="747.4" cy="725.7" r="8.5" fill="#0D55A7"/>
<circle cx="758.5" cy="727.1" r="8.5" fill="#0D55A7"/>
<circle cx="769.7" cy="728.6" r="8.5" fill="#0D55A7"/>
<circle cx="780.8" cy="730.0" r="8.5" fill="#0D55A7"/>
<circle cx="792.0" cy="731.5" r="8.5" fill="#0D55A7"/>
<circle cx="803.1" cy="733.8" r="8.5" fill="#0D55A7"/>
<circle cx="814.2" cy="735.9" r="8.5" fill="#0D55A7"/>
<circle cx="825.4" cy="738.1" r="8.5" fill="#0D55A7"/>
<circle cx="836.5" cy="740.2" r="8.5" fill="#0D55A7"/>
<circle cx="847.7" cy="742.4" r="8.5" fill="#0D55A7"/>
<circle cx="858.8" cy="744.5" r="8.5" fill="#0D55A7"/>
<circle cx="869.9" cy="746.7" r="8.5" fill="#0D55A7"/>
<circle cx="881.1" cy="748.8" r="8.5" fill="#0D55A7"/>
<circle cx="892.2" cy="751.1" r="8.5" fill="#0D55A7"/>
<circle cx="903.4" cy="753.3" r="8.5" fill="#0D55A7"/>
<circle cx="914.5" cy="755.6" r="8.5" fill="#0D55A7"/>
<circle cx="925.6" cy="757.8" r="8.5" fill="#0D55A7"/>
<circle cx="936.8" cy="760.1" r="8.5" fill="#0D55A7"/>
<circle cx="947.9" cy="762.3" r="8.5" fill="#0D55A7"/>
<circle cx="959.1" cy="764.5" r="8.5" fill="#0D55A7"/>
<circle cx="970.2" cy="766.9" r="8.5" fill="#0D55A7"/>
<circle cx="981.3" cy="769.5" r="8.5" fill="#0D55A7"/>
<circle cx="992.5" cy="772.1" r="8.5" fill="#0D55A7"/>
<circle cx="1003.6" cy="774.7" r="8.5" fill="#0D55A7"/>
<circle cx="1014.8" cy="777.2" r="8.5" fill="#0D55A7"/>
<circle cx="1025.9" cy="780.5" r="8.5" fill="#0D55A7"/>
<circle cx="1037.0" cy="783.8" r="8.5" fill="#0D55A7"/>
<circle cx="1048.2" cy="787.0" r="8.5" fill="#0D55A7"/>
<circle cx="1059.3" cy="790.8" r="8.5" fill="#0D55A7"/>
<circle cx="1070.5" cy="794.8" r="8.5" fill="#0D55A7"/>
<circle cx="1081.6" cy="798.7" r="8.5" fill="#0D55A7"/>
<circle cx="1092.7" cy="801.1" r="8.5" fill="#0D55A7"/>
<circle cx="1103.9" cy="803.6" r="8.5" fill="#0D55A7"/>
<circle cx="1115.0" cy="806.0" r="8.5" fill="#0D55A7"/>
<circle cx="1126.2" cy="808.5" r="8.5" fill="#0D55A7"/>
<circle cx="1137.3" cy="810.9" r="8.5" fill="#0D55A7"/>
<circle cx="1148.4" cy="815.3" r="8.5" fill="#0D55A7"/>
<circle cx="1159.6" cy="820.1" r="8.5" fill="#0D55A7"/>
<circle cx="1170.7" cy="825.0" r="8.5" fill="#0D55A7"/>
<circle cx="1181.9" cy="829.8" r="8.5" fill="#0D55A7"/>
<circle cx="1193.0" cy="834.6" r="8.5" fill="#0D55A7"/>
<circle cx="90.1" cy="693.8" r="7.9" fill="none" stroke="#0D55A7" stroke-width="2.4"/>
<circle cx="101.3" cy="692.3" r="7.9" fill="none" stroke="#0D55A7" stroke-width="2.4"/>
<circle cx="112.4" cy="690.9" r="7.9" fill="none" stroke="#0D55A7" stroke-width="2.4"/>
<circle cx="123.6" cy="689.4" r="7.9" fill="none" stroke="#0D55A7" stroke-width="2.4"/>
<circle cx="134.7" cy="688.0" r="7.9" fill="none" stroke="#0D55A7" stroke-width="2.4"/>
<circle cx="145.8" cy="685.0" r="7.9" fill="none" stroke="#0D55A7" stroke-width="2.4"/>
<circle cx="157.0" cy="682.0" r="7.9" fill="none" stroke="#0D55A7" stroke-width="2.4"/>
<circle cx="168.1" cy="679.0" r="7.9" fill="none" stroke="#0D55A7" stroke-width="2.4"/>
<circle cx="179.3" cy="675.9" r="7.9" fill="none" stroke="#0D55A7" stroke-width="2.4"/>
<circle cx="190.4" cy="672.9" r="7.9" fill="none" stroke="#0D55A7" stroke-width="2.4"/>
<circle cx="201.5" cy="672.9" r="7.9" fill="none" stroke="#0D55A7" stroke-width="2.4"/>
<circle cx="212.7" cy="672.9" r="7.9" fill="none" stroke="#0D55A7" stroke-width="2.4"/>
<circle cx="223.8" cy="672.9" r="7.9" fill="none" stroke="#0D55A7" stroke-width="2.4"/>
<circle cx="235.0" cy="672.9" r="7.9" fill="none" stroke="#0D55A7" stroke-width="2.4"/>
<circle cx="246.1" cy="672.9" r="7.9" fill="none" stroke="#0D55A7" stroke-width="2.4"/>
<circle cx="257.2" cy="673.6" r="7.9" fill="none" stroke="#0D55A7" stroke-width="2.4"/>
<circle cx="268.4" cy="674.3" r="7.9" fill="none" stroke="#0D55A7" stroke-width="2.4"/>
<circle cx="279.5" cy="675.0" r="7.9" fill="none" stroke="#0D55A7" stroke-width="2.4"/>
<circle cx="290.7" cy="675.7" r="7.9" fill="none" stroke="#0D55A7" stroke-width="2.4"/>
<circle cx="301.8" cy="676.4" r="7.9" fill="none" stroke="#0D55A7" stroke-width="2.4"/>
<circle cx="312.9" cy="676.6" r="7.9" fill="none" stroke="#0D55A7" stroke-width="2.4"/>
<circle cx="324.1" cy="676.9" r="7.9" fill="none" stroke="#0D55A7" stroke-width="2.4"/>
<circle cx="335.2" cy="677.1" r="7.9" fill="none" stroke="#0D55A7" stroke-width="2.4"/>
<circle cx="346.4" cy="677.3" r="7.9" fill="none" stroke="#0D55A7" stroke-width="2.4"/>
<circle cx="357.5" cy="677.6" r="7.9" fill="none" stroke="#0D55A7" stroke-width="2.4"/>
<circle cx="368.6" cy="677.9" r="7.9" fill="none" stroke="#0D55A7" stroke-width="2.4"/>
<circle cx="379.8" cy="678.1" r="7.9" fill="none" stroke="#0D55A7" stroke-width="2.4"/>
<circle cx="390.9" cy="678.4" r="7.9" fill="none" stroke="#0D55A7" stroke-width="2.4"/>
<circle cx="402.1" cy="678.7" r="7.9" fill="none" stroke="#0D55A7" stroke-width="2.4"/>
<circle cx="413.2" cy="677.6" r="7.9" fill="none" stroke="#0D55A7" stroke-width="2.4"/>
<circle cx="424.3" cy="676.4" r="7.9" fill="none" stroke="#0D55A7" stroke-width="2.4"/>
<circle cx="435.5" cy="679.9" r="7.9" fill="none" stroke="#0D55A7" stroke-width="2.4"/>
<circle cx="446.6" cy="678.4" r="7.9" fill="none" stroke="#0D55A7" stroke-width="2.4"/>
<circle cx="457.8" cy="677.0" r="7.9" fill="none" stroke="#0D55A7" stroke-width="2.4"/>
<circle cx="468.9" cy="681.6" r="7.9" fill="none" stroke="#0D55A7" stroke-width="2.4"/>
<circle cx="480.0" cy="677.6" r="7.9" fill="none" stroke="#0D55A7" stroke-width="2.4"/>
<circle cx="491.2" cy="682.8" r="7.9" fill="none" stroke="#0D55A7" stroke-width="2.4"/>
<circle cx="502.3" cy="678.7" r="7.9" fill="none" stroke="#0D55A7" stroke-width="2.4"/>
<circle cx="513.5" cy="682.8" r="7.9" fill="none" stroke="#0D55A7" stroke-width="2.4"/>
<circle cx="524.6" cy="684.5" r="7.9" fill="none" stroke="#0D55A7" stroke-width="2.4"/>
<circle cx="535.7" cy="686.0" r="7.9" fill="none" stroke="#0D55A7" stroke-width="2.4"/>
<circle cx="546.9" cy="687.4" r="7.9" fill="none" stroke="#0D55A7" stroke-width="2.4"/>
<circle cx="558.0" cy="687.7" r="7.9" fill="none" stroke="#0D55A7" stroke-width="2.4"/>
<circle cx="569.2" cy="688.0" r="7.9" fill="none" stroke="#0D55A7" stroke-width="2.4"/>
<circle cx="580.3" cy="689.0" r="7.9" fill="none" stroke="#0D55A7" stroke-width="2.4"/>
<circle cx="591.4" cy="689.9" r="7.9" fill="none" stroke="#0D55A7" stroke-width="2.4"/>
<circle cx="602.6" cy="690.9" r="7.9" fill="none" stroke="#0D55A7" stroke-width="2.4"/>
<circle cx="613.7" cy="691.9" r="7.9" fill="none" stroke="#0D55A7" stroke-width="2.4"/>
<circle cx="624.9" cy="692.8" r="7.9" fill="none" stroke="#0D55A7" stroke-width="2.4"/>
<circle cx="636.0" cy="693.8" r="7.9" fill="none" stroke="#0D55A7" stroke-width="2.4"/>
<circle cx="647.1" cy="695.0" r="7.9" fill="none" stroke="#0D55A7" stroke-width="2.4"/>
<circle cx="658.3" cy="692.6" r="7.9" fill="none" stroke="#0D55A7" stroke-width="2.4"/>
<circle cx="669.4" cy="697.9" r="7.9" fill="none" stroke="#0D55A7" stroke-width="2.4"/>
<circle cx="680.6" cy="700.2" r="7.9" fill="none" stroke="#0D55A7" stroke-width="2.4"/>
<circle cx="691.7" cy="702.5" r="7.9" fill="none" stroke="#0D55A7" stroke-width="2.4"/>
<circle cx="702.8" cy="701.9" r="7.9" fill="none" stroke="#0D55A7" stroke-width="2.4"/>
<circle cx="714.0" cy="701.3" r="7.9" fill="none" stroke="#0D55A7" stroke-width="2.4"/>
<circle cx="725.1" cy="703.9" r="7.9" fill="none" stroke="#0D55A7" stroke-width="2.4"/>
<circle cx="736.3" cy="706.5" r="7.9" fill="none" stroke="#0D55A7" stroke-width="2.4"/>
<circle cx="747.4" cy="707.7" r="7.9" fill="none" stroke="#0D55A7" stroke-width="2.4"/>
<circle cx="758.5" cy="708.9" r="7.9" fill="none" stroke="#0D55A7" stroke-width="2.4"/>
<circle cx="769.7" cy="716.4" r="7.9" fill="none" stroke="#0D55A7" stroke-width="2.4"/>
<circle cx="780.8" cy="718.3" r="7.9" fill="none" stroke="#0D55A7" stroke-width="2.4"/>
<circle cx="792.0" cy="720.3" r="7.9" fill="none" stroke="#0D55A7" stroke-width="2.4"/>
<circle cx="803.1" cy="722.2" r="7.9" fill="none" stroke="#0D55A7" stroke-width="2.4"/>
<circle cx="814.2" cy="724.5" r="7.9" fill="none" stroke="#0D55A7" stroke-width="2.4"/>
<circle cx="825.4" cy="726.8" r="7.9" fill="none" stroke="#0D55A7" stroke-width="2.4"/>
<circle cx="836.5" cy="728.8" r="7.9" fill="none" stroke="#0D55A7" stroke-width="2.4"/>
<circle cx="847.7" cy="730.7" r="7.9" fill="none" stroke="#0D55A7" stroke-width="2.4"/>
<circle cx="858.8" cy="732.6" r="7.9" fill="none" stroke="#0D55A7" stroke-width="2.4"/>
<circle cx="869.9" cy="734.6" r="7.9" fill="none" stroke="#0D55A7" stroke-width="2.4"/>
<circle cx="881.1" cy="736.5" r="7.9" fill="none" stroke="#0D55A7" stroke-width="2.4"/>
<circle cx="892.2" cy="738.4" r="7.9" fill="none" stroke="#0D55A7" stroke-width="2.4"/>
<circle cx="903.4" cy="741.6" r="7.9" fill="none" stroke="#0D55A7" stroke-width="2.4"/>
<circle cx="914.5" cy="744.8" r="7.9" fill="none" stroke="#0D55A7" stroke-width="2.4"/>
<circle cx="925.6" cy="746.2" r="7.9" fill="none" stroke="#0D55A7" stroke-width="2.4"/>
<circle cx="936.8" cy="747.7" r="7.9" fill="none" stroke="#0D55A7" stroke-width="2.4"/>
<circle cx="947.9" cy="768.0" r="7.9" fill="none" stroke="#0D55A7" stroke-width="2.4"/>
<circle cx="959.1" cy="761.6" r="7.9" fill="none" stroke="#0D55A7" stroke-width="2.4"/>
<circle cx="970.2" cy="755.2" r="7.9" fill="none" stroke="#0D55A7" stroke-width="2.4"/>
<circle cx="981.3" cy="759.9" r="7.9" fill="none" stroke="#0D55A7" stroke-width="2.4"/>
<circle cx="992.5" cy="764.5" r="7.9" fill="none" stroke="#0D55A7" stroke-width="2.4"/>
<circle cx="1003.6" cy="775.5" r="7.9" fill="none" stroke="#0D55A7" stroke-width="2.4"/>
<circle cx="1014.8" cy="786.5" r="7.9" fill="none" stroke="#0D55A7" stroke-width="2.4"/>
<circle cx="1025.9" cy="784.8" r="7.9" fill="none" stroke="#0D55A7" stroke-width="2.4"/>
<circle cx="1037.0" cy="770.9" r="7.9" fill="none" stroke="#0D55A7" stroke-width="2.4"/>
<circle cx="1048.2" cy="794.0" r="7.9" fill="none" stroke="#0D55A7" stroke-width="2.4"/>
<circle cx="1059.3" cy="796.9" r="7.9" fill="none" stroke="#0D55A7" stroke-width="2.4"/>
<circle cx="1070.5" cy="803.5" r="7.9" fill="none" stroke="#0D55A7" stroke-width="2.4"/>
<circle cx="1081.6" cy="809.0" r="7.9" fill="none" stroke="#0D55A7" stroke-width="2.4"/>
<circle cx="1092.7" cy="813.9" r="7.9" fill="none" stroke="#0D55A7" stroke-width="2.4"/>
<circle cx="1103.9" cy="817.8" r="7.9" fill="none" stroke="#0D55A7" stroke-width="2.4"/>
<circle cx="1115.0" cy="828.2" r="7.9" fill="none" stroke="#0D55A7" stroke-width="2.4"/>
<circle cx="1126.2" cy="828.2" r="7.9" fill="none" stroke="#0D55A7" stroke-width="2.4"/>
<circle cx="1137.3" cy="840.4" r="7.9" fill="none" stroke="#0D55A7" stroke-width="2.4"/>
<circle cx="1148.4" cy="845.6" r="7.9" fill="none" stroke="#0D55A7" stroke-width="2.4"/>
<circle cx="1159.6" cy="852.6" r="7.9" fill="none" stroke="#0D55A7" stroke-width="2.4"/>
<circle cx="1170.7" cy="856.6" r="7.9" fill="none" stroke="#0D55A7" stroke-width="2.4"/>
<circle cx="1181.9" cy="861.9" r="7.9" fill="none" stroke="#0D55A7" stroke-width="2.4"/>
<circle cx="1193.0" cy="871.7" r="7.9" fill="none" stroke="#0D55A7" stroke-width="2.4"/>
<circle cx="101.3" cy="688.0" r="7.9" fill="none" stroke="#DA171E" stroke-width="2.4"/>
<circle cx="112.4" cy="687.4" r="7.9" fill="none" stroke="#DA171E" stroke-width="2.4"/>
<circle cx="123.6" cy="686.8" r="7.9" fill="none" stroke="#DA171E" stroke-width="2.4"/>
<circle cx="134.7" cy="686.3" r="7.9" fill="none" stroke="#DA171E" stroke-width="2.4"/>
<circle cx="145.8" cy="685.7" r="7.9" fill="none" stroke="#DA171E" stroke-width="2.4"/>
<circle cx="157.0" cy="685.1" r="7.9" fill="none" stroke="#DA171E" stroke-width="2.4"/>
<circle cx="168.1" cy="684.5" r="7.9" fill="none" stroke="#DA171E" stroke-width="2.4"/>
<circle cx="179.3" cy="683.9" r="7.9" fill="none" stroke="#DA171E" stroke-width="2.4"/>
<circle cx="190.4" cy="683.4" r="7.9" fill="none" stroke="#DA171E" stroke-width="2.4"/>
<circle cx="201.5" cy="683.8" r="7.9" fill="none" stroke="#DA171E" stroke-width="2.4"/>
<circle cx="212.7" cy="684.3" r="7.9" fill="none" stroke="#DA171E" stroke-width="2.4"/>
<circle cx="223.8" cy="684.8" r="7.9" fill="none" stroke="#DA171E" stroke-width="2.4"/>
<circle cx="235.0" cy="685.2" r="7.9" fill="none" stroke="#DA171E" stroke-width="2.4"/>
<circle cx="246.1" cy="685.7" r="7.9" fill="none" stroke="#DA171E" stroke-width="2.4"/>
<circle cx="257.2" cy="686.1" r="7.9" fill="none" stroke="#DA171E" stroke-width="2.4"/>
<circle cx="268.4" cy="686.6" r="7.9" fill="none" stroke="#DA171E" stroke-width="2.4"/>
<circle cx="279.5" cy="687.1" r="7.9" fill="none" stroke="#DA171E" stroke-width="2.4"/>
<circle cx="290.7" cy="687.5" r="7.9" fill="none" stroke="#DA171E" stroke-width="2.4"/>
<circle cx="301.8" cy="688.0" r="7.9" fill="none" stroke="#DA171E" stroke-width="2.4"/>
<circle cx="312.9" cy="688.9" r="7.9" fill="none" stroke="#DA171E" stroke-width="2.4"/>
<circle cx="324.1" cy="689.7" r="7.9" fill="none" stroke="#DA171E" stroke-width="2.4"/>
<circle cx="335.2" cy="690.6" r="7.9" fill="none" stroke="#DA171E" stroke-width="2.4"/>
<circle cx="346.4" cy="691.5" r="7.9" fill="none" stroke="#DA171E" stroke-width="2.4"/>
<circle cx="357.5" cy="692.3" r="7.9" fill="none" stroke="#DA171E" stroke-width="2.4"/>
<circle cx="368.6" cy="693.2" r="7.9" fill="none" stroke="#DA171E" stroke-width="2.4"/>
<circle cx="379.8" cy="694.1" r="7.9" fill="none" stroke="#DA171E" stroke-width="2.4"/>
<circle cx="390.9" cy="695.0" r="7.9" fill="none" stroke="#DA171E" stroke-width="2.4"/>
<circle cx="402.1" cy="695.8" r="7.9" fill="none" stroke="#DA171E" stroke-width="2.4"/>
<circle cx="413.2" cy="696.7" r="7.9" fill="none" stroke="#DA171E" stroke-width="2.4"/>
<circle cx="424.3" cy="698.4" r="7.9" fill="none" stroke="#DA171E" stroke-width="2.4"/>
<circle cx="435.5" cy="700.2" r="7.9" fill="none" stroke="#DA171E" stroke-width="2.4"/>
<circle cx="446.6" cy="701.9" r="7.9" fill="none" stroke="#DA171E" stroke-width="2.4"/>
<circle cx="457.8" cy="703.6" r="7.9" fill="none" stroke="#DA171E" stroke-width="2.4"/>
<circle cx="468.9" cy="705.4" r="7.9" fill="none" stroke="#DA171E" stroke-width="2.4"/>
<circle cx="480.0" cy="707.1" r="7.9" fill="none" stroke="#DA171E" stroke-width="2.4"/>
<circle cx="491.2" cy="708.9" r="7.9" fill="none" stroke="#DA171E" stroke-width="2.4"/>
<circle cx="502.3" cy="710.6" r="7.9" fill="none" stroke="#DA171E" stroke-width="2.4"/>
<circle cx="513.5" cy="712.3" r="7.9" fill="none" stroke="#DA171E" stroke-width="2.4"/>
<circle cx="524.6" cy="714.1" r="7.9" fill="none" stroke="#DA171E" stroke-width="2.4"/>
<circle cx="535.7" cy="716.0" r="7.9" fill="none" stroke="#DA171E" stroke-width="2.4"/>
<circle cx="546.9" cy="717.9" r="7.9" fill="none" stroke="#DA171E" stroke-width="2.4"/>
<circle cx="558.0" cy="719.8" r="7.9" fill="none" stroke="#DA171E" stroke-width="2.4"/>
<circle cx="569.2" cy="721.7" r="7.9" fill="none" stroke="#DA171E" stroke-width="2.4"/>
<circle cx="580.3" cy="723.6" r="7.9" fill="none" stroke="#DA171E" stroke-width="2.4"/>
<circle cx="591.4" cy="725.6" r="7.9" fill="none" stroke="#DA171E" stroke-width="2.4"/>
<circle cx="602.6" cy="727.5" r="7.9" fill="none" stroke="#DA171E" stroke-width="2.4"/>
<circle cx="613.7" cy="729.4" r="7.9" fill="none" stroke="#DA171E" stroke-width="2.4"/>
<circle cx="624.9" cy="731.3" r="7.9" fill="none" stroke="#DA171E" stroke-width="2.4"/>
<circle cx="636.0" cy="733.2" r="7.9" fill="none" stroke="#DA171E" stroke-width="2.4"/>
<circle cx="647.1" cy="722.8" r="7.9" fill="none" stroke="#DA171E" stroke-width="2.4"/>
<circle cx="658.3" cy="723.9" r="7.9" fill="none" stroke="#DA171E" stroke-width="2.4"/>
<circle cx="669.4" cy="725.1" r="7.9" fill="none" stroke="#DA171E" stroke-width="2.4"/>
<circle cx="680.6" cy="726.2" r="7.9" fill="none" stroke="#DA171E" stroke-width="2.4"/>
<circle cx="691.7" cy="727.4" r="7.9" fill="none" stroke="#DA171E" stroke-width="2.4"/>
<circle cx="702.8" cy="728.6" r="7.9" fill="none" stroke="#DA171E" stroke-width="2.4"/>
<circle cx="714.0" cy="730.7" r="7.9" fill="none" stroke="#DA171E" stroke-width="2.4"/>
<circle cx="725.1" cy="732.9" r="7.9" fill="none" stroke="#DA171E" stroke-width="2.4"/>
<circle cx="736.3" cy="735.1" r="7.9" fill="none" stroke="#DA171E" stroke-width="2.4"/>
<circle cx="747.4" cy="737.3" r="7.9" fill="none" stroke="#DA171E" stroke-width="2.4"/>
<circle cx="758.5" cy="738.8" r="7.9" fill="none" stroke="#DA171E" stroke-width="2.4"/>
<circle cx="769.7" cy="740.3" r="7.9" fill="none" stroke="#DA171E" stroke-width="2.4"/>
<circle cx="780.8" cy="741.8" r="7.9" fill="none" stroke="#DA171E" stroke-width="2.4"/>
<circle cx="792.0" cy="743.3" r="7.9" fill="none" stroke="#DA171E" stroke-width="2.4"/>
<circle cx="803.1" cy="744.8" r="7.9" fill="none" stroke="#DA171E" stroke-width="2.4"/>
<circle cx="814.2" cy="747.7" r="7.9" fill="none" stroke="#DA171E" stroke-width="2.4"/>
<circle cx="825.4" cy="750.6" r="7.9" fill="none" stroke="#DA171E" stroke-width="2.4"/>
<circle cx="836.5" cy="753.5" r="7.9" fill="none" stroke="#DA171E" stroke-width="2.4"/>
<circle cx="847.7" cy="756.4" r="7.9" fill="none" stroke="#DA171E" stroke-width="2.4"/>
<circle cx="858.8" cy="759.3" r="7.9" fill="none" stroke="#DA171E" stroke-width="2.4"/>
<circle cx="869.9" cy="762.2" r="7.9" fill="none" stroke="#DA171E" stroke-width="2.4"/>
<circle cx="881.1" cy="765.1" r="7.9" fill="none" stroke="#DA171E" stroke-width="2.4"/>
<circle cx="892.2" cy="768.3" r="7.9" fill="none" stroke="#DA171E" stroke-width="2.4"/>
<circle cx="903.4" cy="771.4" r="7.9" fill="none" stroke="#DA171E" stroke-width="2.4"/>
<circle cx="914.5" cy="774.9" r="7.9" fill="none" stroke="#DA171E" stroke-width="2.4"/>
<circle cx="925.6" cy="778.4" r="7.9" fill="none" stroke="#DA171E" stroke-width="2.4"/>
<circle cx="936.8" cy="783.0" r="7.9" fill="none" stroke="#DA171E" stroke-width="2.4"/>
<circle cx="947.9" cy="787.7" r="7.9" fill="none" stroke="#DA171E" stroke-width="2.4"/>
<circle cx="959.1" cy="792.3" r="7.9" fill="none" stroke="#DA171E" stroke-width="2.4"/>
<circle cx="970.2" cy="796.9" r="7.9" fill="none" stroke="#DA171E" stroke-width="2.4"/>
<circle cx="981.3" cy="802.3" r="7.9" fill="none" stroke="#DA171E" stroke-width="2.4"/>
<circle cx="992.5" cy="809.1" r="7.9" fill="none" stroke="#DA171E" stroke-width="2.4"/>
<circle cx="1003.6" cy="816.1" r="7.9" fill="none" stroke="#DA171E" stroke-width="2.4"/>
<circle cx="1014.8" cy="823.0" r="7.9" fill="none" stroke="#DA171E" stroke-width="2.4"/>
<circle cx="1025.9" cy="830.3" r="7.9" fill="none" stroke="#DA171E" stroke-width="2.4"/>
<circle cx="1037.0" cy="838.4" r="7.9" fill="none" stroke="#DA171E" stroke-width="2.4"/>
<circle cx="1048.2" cy="846.5" r="7.9" fill="none" stroke="#DA171E" stroke-width="2.4"/>
<circle cx="1059.3" cy="854.0" r="7.9" fill="none" stroke="#DA171E" stroke-width="2.4"/>
<circle cx="1070.5" cy="860.7" r="7.9" fill="none" stroke="#DA171E" stroke-width="2.4"/>
<circle cx="1081.6" cy="868.8" r="7.9" fill="none" stroke="#DA171E" stroke-width="2.4"/>
<circle cx="1092.7" cy="877.8" r="7.9" fill="none" stroke="#DA171E" stroke-width="2.4"/>
<circle cx="1103.9" cy="884.5" r="7.9" fill="none" stroke="#DA171E" stroke-width="2.4"/>
<circle cx="1115.0" cy="893.1" r="7.9" fill="none" stroke="#DA171E" stroke-width="2.4"/>
<circle cx="1126.2" cy="898.4" r="7.9" fill="none" stroke="#DA171E" stroke-width="2.4"/>
<circle cx="1137.3" cy="903.6" r="7.9" fill="none" stroke="#DA171E" stroke-width="2.4"/>
<circle cx="1148.4" cy="908.5" r="7.9" fill="none" stroke="#DA171E" stroke-width="2.4"/>
<circle cx="1159.6" cy="913.4" r="7.9" fill="none" stroke="#DA171E" stroke-width="2.4"/>
<circle cx="1170.7" cy="917.2" r="7.9" fill="none" stroke="#DA171E" stroke-width="2.4"/>
<circle cx="1181.9" cy="921.0" r="7.9" fill="none" stroke="#DA171E" stroke-width="2.4"/>
<circle cx="1193.0" cy="927.3" r="7.9" fill="none" stroke="#DA171E" stroke-width="2.4"/>
<circle cx="101.3" cy="688.0" r="8.5" fill="#DA171E"/>
<circle cx="112.4" cy="686.8" r="8.5" fill="#DA171E"/>
<circle cx="123.6" cy="685.7" r="8.5" fill="#DA171E"/>
<circle cx="134.7" cy="684.5" r="8.5" fill="#DA171E"/>
<circle cx="145.8" cy="684.3" r="8.5" fill="#DA171E"/>
<circle cx="157.0" cy="684.1" r="8.5" fill="#DA171E"/>
<circle cx="168.1" cy="683.8" r="8.5" fill="#DA171E"/>
<circle cx="179.3" cy="683.6" r="8.5" fill="#DA171E"/>
<circle cx="190.4" cy="683.4" r="8.5" fill="#DA171E"/>
<circle cx="201.5" cy="683.6" r="8.5" fill="#DA171E"/>
<circle cx="212.7" cy="683.8" r="8.5" fill="#DA171E"/>
<circle cx="223.8" cy="684.1" r="8.5" fill="#DA171E"/>
<circle cx="235.0" cy="684.3" r="8.5" fill="#DA171E"/>
<circle cx="246.1" cy="684.5" r="8.5" fill="#DA171E"/>
<circle cx="257.2" cy="685.2" r="8.5" fill="#DA171E"/>
<circle cx="268.4" cy="685.9" r="8.5" fill="#DA171E"/>
<circle cx="279.5" cy="686.6" r="8.5" fill="#DA171E"/>
<circle cx="290.7" cy="687.3" r="8.5" fill="#DA171E"/>
<circle cx="301.8" cy="688.0" r="8.5" fill="#DA171E"/>
<circle cx="312.9" cy="688.6" r="8.5" fill="#DA171E"/>
<circle cx="324.1" cy="689.2" r="8.5" fill="#DA171E"/>
<circle cx="335.2" cy="689.7" r="8.5" fill="#DA171E"/>
<circle cx="346.4" cy="690.3" r="8.5" fill="#DA171E"/>
<circle cx="357.5" cy="690.9" r="8.5" fill="#DA171E"/>
<circle cx="368.6" cy="692.1" r="8.5" fill="#DA171E"/>
<circle cx="379.8" cy="693.2" r="8.5" fill="#DA171E"/>
<circle cx="390.9" cy="694.4" r="8.5" fill="#DA171E"/>
<circle cx="402.1" cy="695.5" r="8.5" fill="#DA171E"/>
<circle cx="413.2" cy="696.7" r="8.5" fill="#DA171E"/>
<circle cx="424.3" cy="698.2" r="8.5" fill="#DA171E"/>
<circle cx="435.5" cy="699.7" r="8.5" fill="#DA171E"/>
<circle cx="446.6" cy="701.2" r="8.5" fill="#DA171E"/>
<circle cx="457.8" cy="702.7" r="8.5" fill="#DA171E"/>
<circle cx="468.9" cy="704.2" r="8.5" fill="#DA171E"/>
<circle cx="480.0" cy="705.8" r="8.5" fill="#DA171E"/>
<circle cx="491.2" cy="707.5" r="8.5" fill="#DA171E"/>
<circle cx="502.3" cy="709.1" r="8.5" fill="#DA171E"/>
<circle cx="513.5" cy="710.7" r="8.5" fill="#DA171E"/>
<circle cx="524.6" cy="712.3" r="8.5" fill="#DA171E"/>
<circle cx="535.7" cy="713.8" r="8.5" fill="#DA171E"/>
<circle cx="546.9" cy="715.4" r="8.5" fill="#DA171E"/>
<circle cx="558.0" cy="716.9" r="8.5" fill="#DA171E"/>
<circle cx="569.2" cy="718.4" r="8.5" fill="#DA171E"/>
<circle cx="580.3" cy="719.9" r="8.5" fill="#DA171E"/>
<circle cx="591.4" cy="722.4" r="8.5" fill="#DA171E"/>
<circle cx="602.6" cy="725.0" r="8.5" fill="#DA171E"/>
<circle cx="613.7" cy="727.5" r="8.5" fill="#DA171E"/>
<circle cx="624.9" cy="730.1" r="8.5" fill="#DA171E"/>
<circle cx="636.0" cy="732.6" r="8.5" fill="#DA171E"/>
<circle cx="647.1" cy="719.9" r="8.5" fill="#DA171E"/>
<circle cx="658.3" cy="723.1" r="8.5" fill="#DA171E"/>
<circle cx="669.4" cy="726.2" r="8.5" fill="#DA171E"/>
<circle cx="680.6" cy="729.4" r="8.5" fill="#DA171E"/>
<circle cx="691.7" cy="732.6" r="8.5" fill="#DA171E"/>
<circle cx="702.8" cy="735.1" r="8.5" fill="#DA171E"/>
<circle cx="714.0" cy="737.5" r="8.5" fill="#DA171E"/>
<circle cx="725.1" cy="739.9" r="8.5" fill="#DA171E"/>
<circle cx="736.3" cy="742.4" r="8.5" fill="#DA171E"/>
<circle cx="747.4" cy="744.8" r="8.5" fill="#DA171E"/>
<circle cx="758.5" cy="747.6" r="8.5" fill="#DA171E"/>
<circle cx="769.7" cy="750.4" r="8.5" fill="#DA171E"/>
<circle cx="780.8" cy="753.1" r="8.5" fill="#DA171E"/>
<circle cx="792.0" cy="755.9" r="8.5" fill="#DA171E"/>
<circle cx="803.1" cy="758.7" r="8.5" fill="#DA171E"/>
<circle cx="814.2" cy="761.3" r="8.5" fill="#DA171E"/>
<circle cx="825.4" cy="764.0" r="8.5" fill="#DA171E"/>
<circle cx="836.5" cy="766.6" r="8.5" fill="#DA171E"/>
<circle cx="847.7" cy="769.3" r="8.5" fill="#DA171E"/>
<circle cx="858.8" cy="771.9" r="8.5" fill="#DA171E"/>
<circle cx="869.9" cy="774.6" r="8.5" fill="#DA171E"/>
<circle cx="881.1" cy="777.2" r="8.5" fill="#DA171E"/>
<circle cx="892.2" cy="780.7" r="8.5" fill="#DA171E"/>
<circle cx="903.4" cy="784.2" r="8.5" fill="#DA171E"/>
<circle cx="914.5" cy="787.7" r="8.5" fill="#DA171E"/>
<circle cx="925.6" cy="791.9" r="8.5" fill="#DA171E"/>
<circle cx="936.8" cy="796.2" r="8.5" fill="#DA171E"/>
<circle cx="947.9" cy="800.4" r="8.5" fill="#DA171E"/>
<circle cx="959.1" cy="804.7" r="8.5" fill="#DA171E"/>
<circle cx="970.2" cy="809.9" r="8.5" fill="#DA171E"/>
<circle cx="981.3" cy="816.0" r="8.5" fill="#DA171E"/>
<circle cx="992.5" cy="822.1" r="8.5" fill="#DA171E"/>
<circle cx="1003.6" cy="828.2" r="8.5" fill="#DA171E"/>
<circle cx="1014.8" cy="834.9" r="8.5" fill="#DA171E"/>
<circle cx="1025.9" cy="841.6" r="8.5" fill="#DA171E"/>
<circle cx="1037.0" cy="848.2" r="8.5" fill="#DA171E"/>
<circle cx="1048.2" cy="854.9" r="8.5" fill="#DA171E"/>
<circle cx="1059.3" cy="861.9" r="8.5" fill="#DA171E"/>
<circle cx="1070.5" cy="872.3" r="8.5" fill="#DA171E"/>
<circle cx="1081.6" cy="882.7" r="8.5" fill="#DA171E"/>
<circle cx="1092.7" cy="893.1" r="8.5" fill="#DA171E"/>
<circle cx="1103.9" cy="903.6" r="8.5" fill="#DA171E"/>
<circle cx="1115.0" cy="911.1" r="8.5" fill="#DA171E"/>
<circle cx="1126.2" cy="919.8" r="8.5" fill="#DA171E"/>
<circle cx="1137.3" cy="927.3" r="8.5" fill="#DA171E"/>
<circle cx="1148.4" cy="934.9" r="8.5" fill="#DA171E"/>
<circle cx="1159.6" cy="945.3" r="8.5" fill="#DA171E"/>
<circle cx="1170.7" cy="955.1" r="8.5" fill="#DA171E"/>
<circle cx="1181.9" cy="966.7" r="8.5" fill="#DA171E"/>
<circle cx="112.4" cy="688.0" r="7.9" fill="none" stroke="#9DC9E3" stroke-width="2.4"/>
<circle cx="123.6" cy="679.3" r="7.9" fill="none" stroke="#9DC9E3" stroke-width="2.4"/>
<circle cx="134.7" cy="670.6" r="7.9" fill="none" stroke="#9DC9E3" stroke-width="2.4"/>
<circle cx="145.8" cy="667.1" r="7.9" fill="none" stroke="#9DC9E3" stroke-width="2.4"/>
<circle cx="157.0" cy="663.7" r="7.9" fill="none" stroke="#9DC9E3" stroke-width="2.4"/>
<circle cx="168.1" cy="660.2" r="7.9" fill="none" stroke="#9DC9E3" stroke-width="2.4"/>
<circle cx="179.3" cy="659.6" r="7.9" fill="none" stroke="#9DC9E3" stroke-width="2.4"/>
<circle cx="190.4" cy="659.0" r="7.9" fill="none" stroke="#9DC9E3" stroke-width="2.4"/>
<circle cx="201.5" cy="656.7" r="7.9" fill="none" stroke="#9DC9E3" stroke-width="2.4"/>
<circle cx="212.7" cy="654.4" r="7.9" fill="none" stroke="#9DC9E3" stroke-width="2.4"/>
<circle cx="223.8" cy="659.0" r="7.9" fill="none" stroke="#9DC9E3" stroke-width="2.4"/>
<circle cx="235.0" cy="659.0" r="7.9" fill="none" stroke="#9DC9E3" stroke-width="2.4"/>
<circle cx="246.1" cy="659.0" r="7.9" fill="none" stroke="#9DC9E3" stroke-width="2.4"/>
<circle cx="257.2" cy="659.0" r="7.9" fill="none" stroke="#9DC9E3" stroke-width="2.4"/>
<circle cx="268.4" cy="659.0" r="7.9" fill="none" stroke="#9DC9E3" stroke-width="2.4"/>
<circle cx="279.5" cy="659.0" r="7.9" fill="none" stroke="#9DC9E3" stroke-width="2.4"/>
<circle cx="290.7" cy="654.4" r="7.9" fill="none" stroke="#9DC9E3" stroke-width="2.4"/>
<circle cx="301.8" cy="659.0" r="7.9" fill="none" stroke="#9DC9E3" stroke-width="2.4"/>
<circle cx="312.9" cy="659.0" r="7.9" fill="none" stroke="#9DC9E3" stroke-width="2.4"/>
<circle cx="324.1" cy="660.5" r="7.9" fill="none" stroke="#9DC9E3" stroke-width="2.4"/>
<circle cx="335.2" cy="661.9" r="7.9" fill="none" stroke="#9DC9E3" stroke-width="2.4"/>
<circle cx="346.4" cy="663.4" r="7.9" fill="none" stroke="#9DC9E3" stroke-width="2.4"/>
<circle cx="357.5" cy="664.8" r="7.9" fill="none" stroke="#9DC9E3" stroke-width="2.4"/>
<circle cx="368.6" cy="667.7" r="7.9" fill="none" stroke="#9DC9E3" stroke-width="2.4"/>
<circle cx="379.8" cy="670.6" r="7.9" fill="none" stroke="#9DC9E3" stroke-width="2.4"/>
<circle cx="390.9" cy="673.8" r="7.9" fill="none" stroke="#9DC9E3" stroke-width="2.4"/>
<circle cx="402.1" cy="677.0" r="7.9" fill="none" stroke="#9DC9E3" stroke-width="2.4"/>
<circle cx="413.2" cy="685.4" r="7.9" fill="none" stroke="#9DC9E3" stroke-width="2.4"/>
<circle cx="424.3" cy="693.8" r="7.9" fill="none" stroke="#9DC9E3" stroke-width="2.4"/>
<circle cx="435.5" cy="695.2" r="7.9" fill="none" stroke="#9DC9E3" stroke-width="2.4"/>
<circle cx="446.6" cy="696.7" r="7.9" fill="none" stroke="#9DC9E3" stroke-width="2.4"/>
<circle cx="457.8" cy="698.1" r="7.9" fill="none" stroke="#9DC9E3" stroke-width="2.4"/>
<circle cx="468.9" cy="699.6" r="7.9" fill="none" stroke="#9DC9E3" stroke-width="2.4"/>
<circle cx="480.0" cy="703.1" r="7.9" fill="none" stroke="#9DC9E3" stroke-width="2.4"/>
<circle cx="491.2" cy="706.5" r="7.9" fill="none" stroke="#9DC9E3" stroke-width="2.4"/>
<circle cx="502.3" cy="710.0" r="7.9" fill="none" stroke="#9DC9E3" stroke-width="2.4"/>
<circle cx="513.5" cy="710.6" r="7.9" fill="none" stroke="#9DC9E3" stroke-width="2.4"/>
<circle cx="524.6" cy="714.7" r="7.9" fill="none" stroke="#9DC9E3" stroke-width="2.4"/>
<circle cx="535.7" cy="718.7" r="7.9" fill="none" stroke="#9DC9E3" stroke-width="2.4"/>
<circle cx="546.9" cy="721.0" r="7.9" fill="none" stroke="#9DC9E3" stroke-width="2.4"/>
<circle cx="558.0" cy="730.3" r="7.9" fill="none" stroke="#9DC9E3" stroke-width="2.4"/>
<circle cx="569.2" cy="743.6" r="7.9" fill="none" stroke="#9DC9E3" stroke-width="2.4"/>
<circle cx="580.3" cy="746.0" r="7.9" fill="none" stroke="#9DC9E3" stroke-width="2.4"/>
<circle cx="591.4" cy="749.4" r="7.9" fill="none" stroke="#9DC9E3" stroke-width="2.4"/>
<circle cx="602.6" cy="766.2" r="7.9" fill="none" stroke="#9DC9E3" stroke-width="2.4"/>
<circle cx="613.7" cy="780.7" r="7.9" fill="none" stroke="#9DC9E3" stroke-width="2.4"/>
<circle cx="624.9" cy="777.8" r="7.9" fill="none" stroke="#9DC9E3" stroke-width="2.4"/>
<circle cx="636.0" cy="774.9" r="7.9" fill="none" stroke="#9DC9E3" stroke-width="2.4"/>
<circle cx="647.1" cy="779.0" r="7.9" fill="none" stroke="#9DC9E3" stroke-width="2.4"/>
<circle cx="658.3" cy="779.1" r="7.9" fill="none" stroke="#9DC9E3" stroke-width="2.4"/>
<circle cx="669.4" cy="779.3" r="7.9" fill="none" stroke="#9DC9E3" stroke-width="2.4"/>
<circle cx="680.6" cy="779.4" r="7.9" fill="none" stroke="#9DC9E3" stroke-width="2.4"/>
<circle cx="691.7" cy="779.6" r="7.9" fill="none" stroke="#9DC9E3" stroke-width="2.4"/>
<circle cx="702.8" cy="781.2" r="7.9" fill="none" stroke="#9DC9E3" stroke-width="2.4"/>
<circle cx="714.0" cy="782.8" r="7.9" fill="none" stroke="#9DC9E3" stroke-width="2.4"/>
<circle cx="725.1" cy="783.0" r="7.9" fill="none" stroke="#9DC9E3" stroke-width="2.4"/>
<circle cx="736.3" cy="781.9" r="7.9" fill="none" stroke="#9DC9E3" stroke-width="2.4"/>
<circle cx="747.4" cy="780.7" r="7.9" fill="none" stroke="#9DC9E3" stroke-width="2.4"/>
<circle cx="758.5" cy="781.4" r="7.9" fill="none" stroke="#9DC9E3" stroke-width="2.4"/>
<circle cx="769.7" cy="782.2" r="7.9" fill="none" stroke="#9DC9E3" stroke-width="2.4"/>
<circle cx="780.8" cy="782.9" r="7.9" fill="none" stroke="#9DC9E3" stroke-width="2.4"/>
<circle cx="792.0" cy="783.6" r="7.9" fill="none" stroke="#9DC9E3" stroke-width="2.4"/>
<circle cx="803.1" cy="787.4" r="7.9" fill="none" stroke="#9DC9E3" stroke-width="2.4"/>
<circle cx="814.2" cy="791.2" r="7.9" fill="none" stroke="#9DC9E3" stroke-width="2.4"/>
<circle cx="825.4" cy="793.3" r="7.9" fill="none" stroke="#9DC9E3" stroke-width="2.4"/>
<circle cx="836.5" cy="795.4" r="7.9" fill="none" stroke="#9DC9E3" stroke-width="2.4"/>
<circle cx="847.7" cy="797.5" r="7.9" fill="none" stroke="#9DC9E3" stroke-width="2.4"/>
<circle cx="858.8" cy="799.7" r="7.9" fill="none" stroke="#9DC9E3" stroke-width="2.4"/>
<circle cx="869.9" cy="801.8" r="7.9" fill="none" stroke="#9DC9E3" stroke-width="2.4"/>
<circle cx="881.1" cy="803.9" r="7.9" fill="none" stroke="#9DC9E3" stroke-width="2.4"/>
<circle cx="892.2" cy="806.4" r="7.9" fill="none" stroke="#9DC9E3" stroke-width="2.4"/>
<circle cx="903.4" cy="809.0" r="7.9" fill="none" stroke="#9DC9E3" stroke-width="2.4"/>
<circle cx="914.5" cy="811.5" r="7.9" fill="none" stroke="#9DC9E3" stroke-width="2.4"/>
<circle cx="925.6" cy="814.1" r="7.9" fill="none" stroke="#9DC9E3" stroke-width="2.4"/>
<circle cx="936.8" cy="816.6" r="7.9" fill="none" stroke="#9DC9E3" stroke-width="2.4"/>
<circle cx="947.9" cy="819.2" r="7.9" fill="none" stroke="#9DC9E3" stroke-width="2.4"/>
<circle cx="959.1" cy="821.7" r="7.9" fill="none" stroke="#9DC9E3" stroke-width="2.4"/>
<circle cx="970.2" cy="826.3" r="7.9" fill="none" stroke="#9DC9E3" stroke-width="2.4"/>
<circle cx="981.3" cy="832.9" r="7.9" fill="none" stroke="#9DC9E3" stroke-width="2.4"/>
<circle cx="992.5" cy="837.9" r="7.9" fill="none" stroke="#9DC9E3" stroke-width="2.4"/>
<circle cx="1003.6" cy="843.0" r="7.9" fill="none" stroke="#9DC9E3" stroke-width="2.4"/>
<circle cx="1014.8" cy="847.9" r="7.9" fill="none" stroke="#9DC9E3" stroke-width="2.4"/>
<circle cx="1025.9" cy="852.8" r="7.9" fill="none" stroke="#9DC9E3" stroke-width="2.4"/>
<circle cx="1037.0" cy="857.8" r="7.9" fill="none" stroke="#9DC9E3" stroke-width="2.4"/>
<circle cx="1048.2" cy="862.7" r="7.9" fill="none" stroke="#9DC9E3" stroke-width="2.4"/>
<circle cx="1059.3" cy="867.6" r="7.9" fill="none" stroke="#9DC9E3" stroke-width="2.4"/>
<circle cx="1070.5" cy="872.7" r="7.9" fill="none" stroke="#9DC9E3" stroke-width="2.4"/>
<circle cx="1081.6" cy="877.8" r="7.9" fill="none" stroke="#9DC9E3" stroke-width="2.4"/>
<circle cx="1092.7" cy="882.9" r="7.9" fill="none" stroke="#9DC9E3" stroke-width="2.4"/>
<circle cx="1103.9" cy="888.0" r="7.9" fill="none" stroke="#9DC9E3" stroke-width="2.4"/>
<circle cx="1115.0" cy="893.1" r="7.9" fill="none" stroke="#9DC9E3" stroke-width="2.4"/>
<circle cx="1126.2" cy="898.4" r="7.9" fill="none" stroke="#9DC9E3" stroke-width="2.4"/>
<circle cx="1137.3" cy="903.6" r="7.9" fill="none" stroke="#9DC9E3" stroke-width="2.4"/>
<circle cx="1148.4" cy="908.5" r="7.9" fill="none" stroke="#9DC9E3" stroke-width="2.4"/>
<circle cx="1159.6" cy="913.4" r="7.9" fill="none" stroke="#9DC9E3" stroke-width="2.4"/>
<circle cx="1170.7" cy="917.2" r="7.9" fill="none" stroke="#9DC9E3" stroke-width="2.4"/>
<circle cx="1181.9" cy="921.0" r="7.9" fill="none" stroke="#9DC9E3" stroke-width="2.4"/>
<circle cx="1193.0" cy="927.3" r="7.9" fill="none" stroke="#9DC9E3" stroke-width="2.4"/>
<line x1="186" y1="652" x2="340" y2="652" stroke="#000" stroke-width="5.4" stroke-dasharray="7 4"/>
<circle cx="112.4" cy="688.0" r="8.5" fill="#9DC9E3"/>
<circle cx="123.6" cy="676.4" r="8.5" fill="#9DC9E3"/>
<circle cx="134.7" cy="672.9" r="8.5" fill="#9DC9E3"/>
<circle cx="145.8" cy="669.5" r="8.5" fill="#9DC9E3"/>
<circle cx="157.0" cy="667.4" r="8.5" fill="#9DC9E3"/>
<circle cx="168.1" cy="665.4" r="8.5" fill="#9DC9E3"/>
<circle cx="179.3" cy="665.4" r="8.5" fill="#9DC9E3"/>
<circle cx="190.4" cy="665.4" r="8.5" fill="#9DC9E3"/>
<circle cx="201.5" cy="665.4" r="8.5" fill="#9DC9E3"/>
<circle cx="212.7" cy="665.4" r="8.5" fill="#9DC9E3"/>
<circle cx="223.8" cy="665.4" r="8.5" fill="#9DC9E3"/>
<circle cx="235.0" cy="665.4" r="8.5" fill="#9DC9E3"/>
<circle cx="246.1" cy="665.4" r="8.5" fill="#9DC9E3"/>
<circle cx="257.2" cy="665.5" r="8.5" fill="#9DC9E3"/>
<circle cx="268.4" cy="665.6" r="8.5" fill="#9DC9E3"/>
<circle cx="279.5" cy="665.7" r="8.5" fill="#9DC9E3"/>
<circle cx="290.7" cy="665.9" r="8.5" fill="#9DC9E3"/>
<circle cx="301.8" cy="666.0" r="8.5" fill="#9DC9E3"/>
<circle cx="312.9" cy="667.1" r="8.5" fill="#9DC9E3"/>
<circle cx="324.1" cy="668.3" r="8.5" fill="#9DC9E3"/>
<circle cx="335.2" cy="669.5" r="8.5" fill="#9DC9E3"/>
<circle cx="346.4" cy="670.6" r="8.5" fill="#9DC9E3"/>
<circle cx="357.5" cy="676.4" r="8.5" fill="#9DC9E3"/>
<circle cx="368.6" cy="682.2" r="8.5" fill="#9DC9E3"/>
<circle cx="379.8" cy="690.9" r="8.5" fill="#9DC9E3"/>
<circle cx="390.9" cy="689.4" r="8.5" fill="#9DC9E3"/>
<circle cx="402.1" cy="688.0" r="8.5" fill="#9DC9E3"/>
<circle cx="413.2" cy="693.8" r="8.5" fill="#9DC9E3"/>
<circle cx="424.3" cy="699.6" r="8.5" fill="#9DC9E3"/>
<circle cx="435.5" cy="708.3" r="8.5" fill="#9DC9E3"/>
<circle cx="446.6" cy="702.5" r="8.5" fill="#9DC9E3"/>
<circle cx="457.8" cy="703.6" r="8.5" fill="#9DC9E3"/>
<circle cx="468.9" cy="705.4" r="8.5" fill="#9DC9E3"/>
<circle cx="480.0" cy="708.3" r="8.5" fill="#9DC9E3"/>
<circle cx="491.2" cy="711.2" r="8.5" fill="#9DC9E3"/>
<circle cx="502.3" cy="717.0" r="8.5" fill="#9DC9E3"/>
<circle cx="513.5" cy="727.4" r="8.5" fill="#9DC9E3"/>
<circle cx="524.6" cy="730.3" r="8.5" fill="#9DC9E3"/>
<circle cx="535.7" cy="729.1" r="8.5" fill="#9DC9E3"/>
<circle cx="546.9" cy="736.7" r="8.5" fill="#9DC9E3"/>
<circle cx="558.0" cy="750.0" r="8.5" fill="#9DC9E3"/>
<circle cx="569.2" cy="758.1" r="8.5" fill="#9DC9E3"/>
<circle cx="580.3" cy="754.1" r="8.5" fill="#9DC9E3"/>
<circle cx="591.4" cy="769.1" r="8.5" fill="#9DC9E3"/>
<circle cx="602.6" cy="787.7" r="8.5" fill="#9DC9E3"/>
<circle cx="613.7" cy="793.5" r="8.5" fill="#9DC9E3"/>
<circle cx="624.9" cy="783.0" r="8.5" fill="#9DC9E3"/>
<circle cx="636.0" cy="787.1" r="8.5" fill="#9DC9E3"/>
<circle cx="647.1" cy="789.4" r="8.5" fill="#9DC9E3"/>
<circle cx="658.3" cy="785.9" r="8.5" fill="#9DC9E3"/>
<circle cx="669.4" cy="787.1" r="8.5" fill="#9DC9E3"/>
<circle cx="680.6" cy="788.3" r="8.5" fill="#9DC9E3"/>
<circle cx="691.7" cy="789.4" r="8.5" fill="#9DC9E3"/>
<circle cx="702.8" cy="791.4" r="8.5" fill="#9DC9E3"/>
<circle cx="714.0" cy="793.5" r="8.5" fill="#9DC9E3"/>
<circle cx="725.1" cy="798.7" r="8.5" fill="#9DC9E3"/>
<circle cx="736.3" cy="794.6" r="8.5" fill="#9DC9E3"/>
<circle cx="747.4" cy="790.6" r="8.5" fill="#9DC9E3"/>
<circle cx="758.5" cy="791.4" r="8.5" fill="#9DC9E3"/>
<circle cx="769.7" cy="792.3" r="8.5" fill="#9DC9E3"/>
<circle cx="780.8" cy="793.2" r="8.5" fill="#9DC9E3"/>
<circle cx="792.0" cy="794.0" r="8.5" fill="#9DC9E3"/>
<circle cx="803.1" cy="797.8" r="8.5" fill="#9DC9E3"/>
<circle cx="814.2" cy="801.6" r="8.5" fill="#9DC9E3"/>
<circle cx="825.4" cy="803.8" r="8.5" fill="#9DC9E3"/>
<circle cx="836.5" cy="806.0" r="8.5" fill="#9DC9E3"/>
<circle cx="847.7" cy="808.2" r="8.5" fill="#9DC9E3"/>
<circle cx="858.8" cy="810.5" r="8.5" fill="#9DC9E3"/>
<circle cx="869.9" cy="812.7" r="8.5" fill="#9DC9E3"/>
<circle cx="881.1" cy="814.9" r="8.5" fill="#9DC9E3"/>
<circle cx="892.2" cy="817.5" r="8.5" fill="#9DC9E3"/>
<circle cx="903.4" cy="820.0" r="8.5" fill="#9DC9E3"/>
<circle cx="914.5" cy="822.6" r="8.5" fill="#9DC9E3"/>
<circle cx="925.6" cy="825.1" r="8.5" fill="#9DC9E3"/>
<circle cx="936.8" cy="827.7" r="8.5" fill="#9DC9E3"/>
<circle cx="947.9" cy="830.2" r="8.5" fill="#9DC9E3"/>
<circle cx="959.1" cy="832.8" r="8.5" fill="#9DC9E3"/>
<circle cx="970.2" cy="836.0" r="8.5" fill="#9DC9E3"/>
<circle cx="981.3" cy="840.0" r="8.5" fill="#9DC9E3"/>
<circle cx="992.5" cy="844.0" r="8.5" fill="#9DC9E3"/>
<circle cx="1003.6" cy="848.0" r="8.5" fill="#9DC9E3"/>
<circle cx="1014.8" cy="852.1" r="8.5" fill="#9DC9E3"/>
<circle cx="1025.9" cy="856.1" r="8.5" fill="#9DC9E3"/>
<circle cx="1037.0" cy="861.9" r="8.5" fill="#9DC9E3"/>
<circle cx="1048.2" cy="867.6" r="8.5" fill="#9DC9E3"/>
<circle cx="1059.3" cy="873.4" r="8.5" fill="#9DC9E3"/>
<circle cx="1070.5" cy="879.2" r="8.5" fill="#9DC9E3"/>
<circle cx="1081.6" cy="885.0" r="8.5" fill="#9DC9E3"/>
<circle cx="1092.7" cy="890.2" r="8.5" fill="#9DC9E3"/>
<circle cx="1103.9" cy="895.5" r="8.5" fill="#9DC9E3"/>
<circle cx="1115.0" cy="900.7" r="8.5" fill="#9DC9E3"/>
<circle cx="1126.2" cy="905.9" r="8.5" fill="#9DC9E3"/>
<circle cx="1137.3" cy="910.7" r="8.5" fill="#9DC9E3"/>
<circle cx="1148.4" cy="915.6" r="8.5" fill="#9DC9E3"/>
<circle cx="1159.6" cy="920.4" r="8.5" fill="#9DC9E3"/>
<circle cx="1170.7" cy="925.2" r="8.5" fill="#9DC9E3"/>
<circle cx="1181.9" cy="930.0" r="8.5" fill="#9DC9E3"/>
<circle cx="1193.0" cy="934.9" r="8.5" fill="#9DC9E3"/>
</g>
<text x="70" y="51.2" text-anchor="end" font-family="Liberation Sans" font-weight="bold" font-size="24.5">1</text>
<text x="70" y="166.9" text-anchor="end" font-family="Liberation Sans" font-weight="bold" font-size="24.5">0.8</text>
<text x="70" y="282.5" text-anchor="end" font-family="Liberation Sans" font-weight="bold" font-size="24.5">0.6</text>
<text x="70" y="398.2" text-anchor="end" font-family="Liberation Sans" font-weight="bold" font-size="24.5">0.4</text>
<text x="70" y="513.8" text-anchor="end" font-family="Liberation Sans" font-weight="bold" font-size="24.5">0.2</text>
<text x="70" y="696.8" text-anchor="end" font-family="Liberation Sans" font-weight="bold" font-size="24.5">1</text>
<text x="70" y="812.7" text-anchor="end" font-family="Liberation Sans" font-weight="bold" font-size="24.5">0.8</text>
<text x="70" y="928.6" text-anchor="end" font-family="Liberation Sans" font-weight="bold" font-size="24.5">0.6</text>
<text x="70" y="1044.5" text-anchor="end" font-family="Liberation Sans" font-weight="bold" font-size="24.5">0.4</text>
<text x="70" y="1160.4" text-anchor="end" font-family="Liberation Sans" font-weight="bold" font-size="24.5">0.2</text>
<text x="80.2" y="593.8" text-anchor="middle" font-family="Liberation Sans" font-weight="bold" font-size="24.5">0</text>
<text x="303.6" y="593.8" text-anchor="middle" font-family="Liberation Sans" font-weight="bold" font-size="24.5">10</text>
<text x="527.0" y="593.8" text-anchor="middle" font-family="Liberation Sans" font-weight="bold" font-size="24.5">20</text>
<text x="750.4" y="593.8" text-anchor="middle" font-family="Liberation Sans" font-weight="bold" font-size="24.5">30</text>
<text x="973.8" y="593.8" text-anchor="middle" font-family="Liberation Sans" font-weight="bold" font-size="24.5">40</text>
<text x="1197.2" y="593.8" text-anchor="middle" font-family="Liberation Sans" font-weight="bold" font-size="24.5">50</text>
<text x="79.0" y="1240" text-anchor="middle" font-family="Liberation Sans" font-weight="bold" font-size="24.5">0</text>
<text x="190.4" y="1240" text-anchor="middle" font-family="Liberation Sans" font-weight="bold" font-size="24.5">10</text>
<text x="301.8" y="1240" text-anchor="middle" font-family="Liberation Sans" font-weight="bold" font-size="24.5">20</text>
<text x="413.2" y="1240" text-anchor="middle" font-family="Liberation Sans" font-weight="bold" font-size="24.5">30</text>
<text x="524.6" y="1240" text-anchor="middle" font-family="Liberation Sans" font-weight="bold" font-size="24.5">40</text>
<text x="636.0" y="1240" text-anchor="middle" font-family="Liberation Sans" font-weight="bold" font-size="24.5">50</text>
<text x="747.4" y="1240" text-anchor="middle" font-family="Liberation Sans" font-weight="bold" font-size="24.5">60</text>
<text x="858.8" y="1240" text-anchor="middle" font-family="Liberation Sans" font-weight="bold" font-size="24.5">70</text>
<text x="970.2" y="1240" text-anchor="middle" font-family="Liberation Sans" font-weight="bold" font-size="24.5">80</text>
<text x="1081.6" y="1240" text-anchor="middle" font-family="Liberation Sans" font-weight="bold" font-size="24.5">90</text>
<text x="1193.0" y="1240" text-anchor="middle" font-family="Liberation Sans" font-weight="bold" font-size="24.5">100</text>
<text x="633.5" y="628.7" text-anchor="middle" font-family="Liberation Sans" font-size="31">Cycle No.</text>
<text x="632" y="1274.6" text-anchor="middle" font-family="Liberation Sans" font-size="31">Cycle No.</text>
<text transform="translate(23.8,290.5) rotate(-90)" text-anchor="middle" font-family="Liberation Sans" font-size="31">Normalized Discharge Capacity</text>
<text transform="translate(23.8,936.5) rotate(-90)" text-anchor="middle" font-family="Liberation Sans" font-size="31">Normalized Discharge Capacity</text>
<g fill="#000"><rect x="113.3" y="76" width="5" height="21.4"/><path d="M96.6 74.2 C99 70.8 102.3 69.8 106.3 69.8 C112.9 69.8 115.8 72.6 115.8 78.6" fill="none" stroke="#000" stroke-width="5.2"/><path fill-rule="evenodd" d="M115.5 81.2 C110 80.2 94.7 80.2 94.7 89.6 C94.7 94.8 98.4 97.6 103.6 97.6 C108.8 97.6 112.4 95.2 115.5 92.4 Z M113.6 84.4 C109.5 83.6 101.6 83.6 101.6 88.8 C101.6 91.5 103.2 92.6 105.4 92.6 C108.6 92.6 111.7 90.8 113.6 88.8 Z"/></g>
<g fill="#000"><rect x="96.1" y="712.8" width="7.3" height="41" rx="1.2"/><path fill-rule="evenodd" d="M100 730 C103 726.4 106.6 725 110.6 725 C118.2 725 122.6 731 122.6 739.6 C122.6 748.4 117.8 754.2 110.2 754.2 C106.3 754.2 102.8 752.6 100 749.4 Z M103.4 734.6 C105 731.9 107.2 730.9 109.6 730.9 C113.4 730.9 115.4 734.4 115.4 739.8 C115.4 745.2 113.2 748.6 109.4 748.6 C107 748.6 104.8 747.4 103.4 745 Z"/></g>
<circle cx="149.7" cy="448.0" r="8.5" fill="#FCA88B"/>
<text x="202.2" y="455.8" font-family="Liberation Sans" font-size="25.5" fill="#111">LiDFOB/LiBF<tspan font-size="16" dx="2" dy="6">4</tspan><tspan dy="-6" dx="0" word-spacing="0.6"> - 20 °C</tspan></text>
<circle cx="149.7" cy="485.7" r="8.5" fill="#FA6446"/>
<text x="202.2" y="493.5" font-family="Liberation Sans" font-size="25.5" fill="#111">LiDFOB/LiBF<tspan font-size="16" dx="2" dy="6">4</tspan><tspan dy="-6" dx="0" word-spacing="0.6"> - 30 °C</tspan></text>
<circle cx="149.7" cy="523.2" r="8.5" fill="#D4181F"/>
<text x="202.2" y="531.0" font-family="Liberation Sans" font-size="25.5" fill="#111">LiDFOB/LiBF<tspan font-size="16" dx="2" dy="6">4</tspan><tspan dy="-6" dx="0" word-spacing="0.6"> - 40 °C</tspan></text>
<circle cx="620.6" cy="963.4" r="8.5" fill="#FCA88B"/>
<text x="674" y="971.2" font-family="Liberation Sans" font-size="25" fill="#111">LiDFOB/LiBF<tspan font-size="16" dx="3" dy="6">4</tspan><tspan dy="-6" dx="0.5" word-spacing="1.4"> - 20 °C (75 kPa)</tspan></text>
<circle cx="620.6" cy="1001.0" r="8.5" fill="#DA171E"/>
<text x="674" y="1008.8" font-family="Liberation Sans" font-size="25" fill="#111">LiDFOB/LiBF<tspan font-size="16" dx="3" dy="6">4</tspan><tspan dy="-6" dx="0.5" word-spacing="1.4"> - 40 °C (75 kPa)</tspan></text>
<circle cx="620.6" cy="1038.4" r="8.5" fill="#9DC9E3"/>
<text x="674" y="1046.2" font-family="Liberation Sans" font-size="25" fill="#111">LiDFOB/LiBF<tspan font-size="16" dx="3" dy="6">4</tspan><tspan dy="-6" dx="0.5" word-spacing="1.4"> - 20 °C (1200 kPa)</tspan></text>
<circle cx="620.6" cy="1076.4" r="8.5" fill="#0D55A7"/>
<text x="674" y="1084.2" font-family="Liberation Sans" font-size="25" fill="#111">LiDFOB/LiBF<tspan font-size="16" dx="3" dy="6">4</tspan><tspan dy="-6" dx="0.5" word-spacing="1.4"> - 40 °C (1200 kPa)</tspan></text>
</svg></body></html>
